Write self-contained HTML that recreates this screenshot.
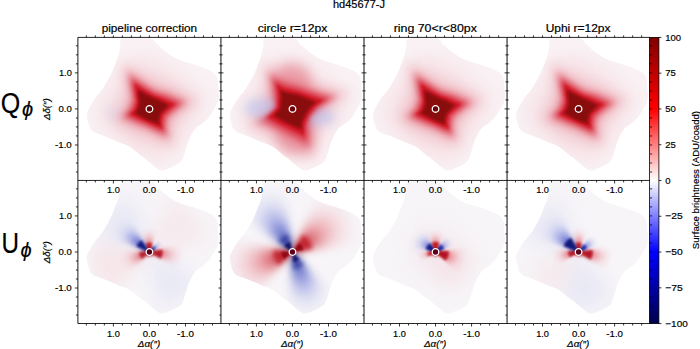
<!DOCTYPE html><html><head><meta charset="utf-8"><style>html,body{margin:0;padding:0;background:#fff;overflow:hidden}svg{display:block}</style></head><body>
<svg width="700" height="349" viewBox="0 0 700 349" font-family='"Liberation Sans", sans-serif'><style>text{stroke:#000;stroke-width:0.18px}</style>
<defs>
<filter id="b1" x="-100%" y="-100%" width="300%" height="300%"><feGaussianBlur stdDeviation="1"/></filter>
<filter id="b2" x="-100%" y="-100%" width="300%" height="300%"><feGaussianBlur stdDeviation="2"/></filter>
<filter id="b3" x="-100%" y="-100%" width="300%" height="300%"><feGaussianBlur stdDeviation="3"/></filter>
<filter id="b4" x="-100%" y="-100%" width="300%" height="300%"><feGaussianBlur stdDeviation="4"/></filter>
<filter id="b5" x="-100%" y="-100%" width="300%" height="300%"><feGaussianBlur stdDeviation="5"/></filter>
<filter id="b6" x="-100%" y="-100%" width="300%" height="300%"><feGaussianBlur stdDeviation="6"/></filter>
<filter id="b8" x="-100%" y="-100%" width="300%" height="300%"><feGaussianBlur stdDeviation="8"/></filter>
<filter id="b10" x="-100%" y="-100%" width="300%" height="300%"><feGaussianBlur stdDeviation="10"/></filter>
<filter id="b12" x="-100%" y="-100%" width="300%" height="300%"><feGaussianBlur stdDeviation="12"/></filter>
<filter id="b16" x="-100%" y="-100%" width="300%" height="300%"><feGaussianBlur stdDeviation="16"/></filter>
<clipPath id="pc"><rect x="0" y="0" width="143.05" height="143.05"/></clipPath>
<clipPath id="fov"><path d="M45.0,1.0 C49.9,-0.4 65.8,-0.6 71.7,0.5 C77.6,1.6 77.4,5.2 80.3,7.6 C83.2,10.0 86.0,12.7 88.9,14.8 C91.8,16.9 94.4,18.9 97.5,20.5 C100.6,22.1 103.8,23.0 107.6,24.3 C111.4,25.6 116.7,27.0 120.5,28.3 C124.3,29.6 127.8,31.0 130.5,32.3 C133.2,33.5 134.9,34.3 136.5,35.8 C138.1,37.3 139.2,39.2 139.8,41.5 C140.5,43.8 140.2,47.0 140.4,49.8 C140.6,52.6 141.3,55.7 141.2,58.4 C141.0,61.1 140.4,63.8 139.5,66.1 C138.6,68.4 137.3,69.9 136.0,72.1 C134.7,74.2 133.7,76.7 131.8,79.0 C130.0,81.3 127.3,83.9 124.9,85.9 C122.5,87.9 119.8,88.6 117.6,91.2 C115.4,93.8 113.2,98.1 111.6,101.5 C110.0,104.9 109.2,108.3 108.1,111.8 C106.9,115.2 106.0,119.8 104.7,122.2 C103.4,124.7 102.6,125.1 100.4,126.5 C98.2,127.9 94.7,129.7 91.8,130.8 C88.9,131.9 85.8,133.6 83.2,133.3 C80.6,133.0 79.2,131.2 76.3,129.0 C73.4,126.8 68.3,122.3 66.0,120.4 C63.6,118.5 64.5,119.6 62.2,117.8 C59.9,116.0 55.8,111.9 52.1,109.7 C48.4,107.5 44.4,106.5 40.1,104.7 C35.8,102.9 30.5,100.5 26.1,98.7 C21.8,96.9 16.7,96.1 14.0,93.7 C11.3,91.3 10.8,87.3 10.0,84.6 C9.2,81.9 9.0,79.6 9.0,77.6 C9.0,75.6 8.8,75.3 10.0,72.6 C11.2,69.9 14.0,65.1 16.5,61.5 C19.0,57.9 22.1,55.3 24.8,51.2 C27.6,47.1 30.9,40.8 33.0,36.7 C35.0,32.6 35.9,29.5 37.1,26.4 C38.3,23.3 39.3,21.1 40.2,18.2 C41.1,15.3 41.5,11.8 42.3,8.9 C43.1,6.0 40.1,2.4 45.0,1.0Z"/></clipPath>
<radialGradient id="qbg" cx="0.5" cy="0.5" r="0.5"><stop offset="0" stop-color="#f4c8d0"/><stop offset="1" stop-color="#fcf1f4"/></radialGradient>
<linearGradient id="cb" x1="0" y1="0" x2="0" y2="1"><stop offset="0" stop-color="#800000"/><stop offset="0.25" stop-color="#ff0000"/><stop offset="0.5" stop-color="#ffffff"/><stop offset="0.75" stop-color="#0000ff"/><stop offset="1" stop-color="#00004d"/></linearGradient>
<radialGradient id="gb" gradientUnits="userSpaceOnUse" cx="0" cy="0" r="1"><stop offset="0" stop-color="#0a0a58"/><stop offset="0.12" stop-color="#0e1274"/><stop offset="0.28" stop-color="#3040b8" stop-opacity="0.95"/><stop offset="0.5" stop-color="#8088dc" stop-opacity="0.7"/><stop offset="0.75" stop-color="#c0c6ee" stop-opacity="0.4"/><stop offset="1" stop-color="#e0e4f6" stop-opacity="0"/></radialGradient>
<radialGradient id="gr" gradientUnits="userSpaceOnUse" cx="0" cy="0" r="1"><stop offset="0" stop-color="#8a0010"/><stop offset="0.12" stop-color="#a80818"/><stop offset="0.28" stop-color="#d02a36" stop-opacity="0.95"/><stop offset="0.5" stop-color="#e8868e" stop-opacity="0.7"/><stop offset="0.75" stop-color="#f4c2c8" stop-opacity="0.4"/><stop offset="1" stop-color="#f8dde2" stop-opacity="0"/></radialGradient>
<radialGradient id="qglow" cx="0.5" cy="0.5" r="0.5"><stop offset="0" stop-color="#e8909c" stop-opacity="0.7"/><stop offset="0.35" stop-color="#eeaab4" stop-opacity="0.45"/><stop offset="0.7" stop-color="#f2c4cc" stop-opacity="0.18"/><stop offset="1" stop-color="#f4d4da" stop-opacity="0"/></radialGradient>
</defs>
<g transform="translate(77.90,37.40)" clip-path="url(#pc)">
<g clip-path="url(#fov)">
<path d="M45.0,1.0 C49.9,-0.4 65.8,-0.6 71.7,0.5 C77.6,1.6 77.4,5.2 80.3,7.6 C83.2,10.0 86.0,12.7 88.9,14.8 C91.8,16.9 94.4,18.9 97.5,20.5 C100.6,22.1 103.8,23.0 107.6,24.3 C111.4,25.6 116.7,27.0 120.5,28.3 C124.3,29.6 127.8,31.0 130.5,32.3 C133.2,33.5 134.9,34.3 136.5,35.8 C138.1,37.3 139.2,39.2 139.8,41.5 C140.5,43.8 140.2,47.0 140.4,49.8 C140.6,52.6 141.3,55.7 141.2,58.4 C141.0,61.1 140.4,63.8 139.5,66.1 C138.6,68.4 137.3,69.9 136.0,72.1 C134.7,74.2 133.7,76.7 131.8,79.0 C130.0,81.3 127.3,83.9 124.9,85.9 C122.5,87.9 119.8,88.6 117.6,91.2 C115.4,93.8 113.2,98.1 111.6,101.5 C110.0,104.9 109.2,108.3 108.1,111.8 C106.9,115.2 106.0,119.8 104.7,122.2 C103.4,124.7 102.6,125.1 100.4,126.5 C98.2,127.9 94.7,129.7 91.8,130.8 C88.9,131.9 85.8,133.6 83.2,133.3 C80.6,133.0 79.2,131.2 76.3,129.0 C73.4,126.8 68.3,122.3 66.0,120.4 C63.6,118.5 64.5,119.6 62.2,117.8 C59.9,116.0 55.8,111.9 52.1,109.7 C48.4,107.5 44.4,106.5 40.1,104.7 C35.8,102.9 30.5,100.5 26.1,98.7 C21.8,96.9 16.7,96.1 14.0,93.7 C11.3,91.3 10.8,87.3 10.0,84.6 C9.2,81.9 9.0,79.6 9.0,77.6 C9.0,75.6 8.8,75.3 10.0,72.6 C11.2,69.9 14.0,65.1 16.5,61.5 C19.0,57.9 22.1,55.3 24.8,51.2 C27.6,47.1 30.9,40.8 33.0,36.7 C35.0,32.6 35.9,29.5 37.1,26.4 C38.3,23.3 39.3,21.1 40.2,18.2 C41.1,15.3 41.5,11.8 42.3,8.9 C43.1,6.0 40.1,2.4 45.0,1.0Z" fill="#f9f1f4"/>
<g transform="translate(71.53,71.53)">
<circle r="62" fill="url(#qglow)"/>
<path d="M-14.0,-58.0 L16.0,-20.0 L62.0,-12.0 L18.0,14.0 L16.0,57.0 L-14.0,18.0 L-57.0,7.0 L-17.0,-12.0Z" fill="#f0b4be" opacity="0.2" filter="url(#b10)"/>
<path d="M-27.6,-47.3 L-10.3,-34.0 L6.0,-21.8 L23.9,-18.2 L48.4,-8.8 L34.3,0.7 L20.8,9.6 L20.5,24.6 L25.2,37.7 L10.3,29.9 L-3.0,21.4 L-17.0,17.7 L-36.9,10.4 L-25.8,0.7 L-19.4,-11.4 L-23.9,-26.7Z" fill="#e8808c" opacity="0.45" filter="url(#b6)"/>
<path d="M-21.2,-36.4 L-8.3,-27.4 L5.1,-18.5 L19.2,-14.6 L37.2,-6.8 L27.6,0.6 L17.7,8.2 L16.5,19.8 L19.4,29.0 L8.3,24.1 L-2.5,18.2 L-13.7,14.2 L-28.4,8.0 L-20.7,0.6 L-16.5,-9.7 L-19.2,-21.5Z" fill="#dc4654" opacity="0.68" filter="url(#b3)"/>
<ellipse cx="-36" cy="4" rx="9" ry="7" fill="#c8ceee" opacity="0.25" filter="url(#b4)"/>
<path d="M-17.0,-29.1 L-6.9,-22.6 L4.3,-15.8 L15.9,-12.0 L29.8,-5.4 L22.7,0.5 L15.1,7.0 L13.6,16.3 L15.5,23.2 L6.9,19.8 L-2.2,15.5 L-11.3,11.7 L-22.7,6.4 L-17.1,0.5 L-14.1,-8.3 L-15.9,-17.7Z" fill="#d82a3a" opacity="0.85" filter="url(#b2)"/>
<path d="M-14.3,-24.6 L-5.9,-19.2 L3.8,-13.6 L13.5,-10.3 L25.1,-4.6 L19.4,0.4 L13.0,6.0 L11.6,13.9 L13.1,19.6 L5.9,16.9 L-1.9,13.4 L-9.6,10.0 L-19.2,5.4 L-14.6,0.4 L-12.1,-7.1 L-13.5,-15.1Z" fill="#cc1424" filter="url(#b1)"/>
<path d="M-11.1,-19.1 L-4.7,-15.5 L3.2,-11.4 L10.9,-8.3 L19.5,-3.6 L15.6,0.3 L10.9,5.0 L9.3,11.2 L10.2,15.2 L4.7,13.7 L-1.6,11.2 L-7.8,8.1 L-14.9,4.2 L-11.8,0.3 L-10.2,-6.0 L-10.9,-12.2Z" fill="#8a0a10" filter="url(#b1)"/>
<circle r="3.3" fill="#700008" stroke="#fff" stroke-width="1.3"/>
</g></g></g>
<g transform="translate(220.95,37.40)" clip-path="url(#pc)">
<g clip-path="url(#fov)">
<path d="M45.0,1.0 C49.9,-0.4 65.8,-0.6 71.7,0.5 C77.6,1.6 77.4,5.2 80.3,7.6 C83.2,10.0 86.0,12.7 88.9,14.8 C91.8,16.9 94.4,18.9 97.5,20.5 C100.6,22.1 103.8,23.0 107.6,24.3 C111.4,25.6 116.7,27.0 120.5,28.3 C124.3,29.6 127.8,31.0 130.5,32.3 C133.2,33.5 134.9,34.3 136.5,35.8 C138.1,37.3 139.2,39.2 139.8,41.5 C140.5,43.8 140.2,47.0 140.4,49.8 C140.6,52.6 141.3,55.7 141.2,58.4 C141.0,61.1 140.4,63.8 139.5,66.1 C138.6,68.4 137.3,69.9 136.0,72.1 C134.7,74.2 133.7,76.7 131.8,79.0 C130.0,81.3 127.3,83.9 124.9,85.9 C122.5,87.9 119.8,88.6 117.6,91.2 C115.4,93.8 113.2,98.1 111.6,101.5 C110.0,104.9 109.2,108.3 108.1,111.8 C106.9,115.2 106.0,119.8 104.7,122.2 C103.4,124.7 102.6,125.1 100.4,126.5 C98.2,127.9 94.7,129.7 91.8,130.8 C88.9,131.9 85.8,133.6 83.2,133.3 C80.6,133.0 79.2,131.2 76.3,129.0 C73.4,126.8 68.3,122.3 66.0,120.4 C63.6,118.5 64.5,119.6 62.2,117.8 C59.9,116.0 55.8,111.9 52.1,109.7 C48.4,107.5 44.4,106.5 40.1,104.7 C35.8,102.9 30.5,100.5 26.1,98.7 C21.8,96.9 16.7,96.1 14.0,93.7 C11.3,91.3 10.8,87.3 10.0,84.6 C9.2,81.9 9.0,79.6 9.0,77.6 C9.0,75.6 8.8,75.3 10.0,72.6 C11.2,69.9 14.0,65.1 16.5,61.5 C19.0,57.9 22.1,55.3 24.8,51.2 C27.6,47.1 30.9,40.8 33.0,36.7 C35.0,32.6 35.9,29.5 37.1,26.4 C38.3,23.3 39.3,21.1 40.2,18.2 C41.1,15.3 41.5,11.8 42.3,8.9 C43.1,6.0 40.1,2.4 45.0,1.0Z" fill="#f9f1f4"/>
<g transform="translate(71.53,71.53)">
<circle r="62" fill="url(#qglow)"/>
<path d="M-14.0,-58.0 L16.0,-20.0 L62.0,-12.0 L18.0,14.0 L16.0,57.0 L-14.0,18.0 L-57.0,7.0 L-17.0,-12.0Z" fill="#f0b4be" opacity="0.2" filter="url(#b10)"/>
<ellipse cx="0" cy="-28" rx="19" ry="18" fill="#e06070" opacity="0.45" filter="url(#b6)"/>
<ellipse cx="3" cy="28" rx="19" ry="18" fill="#e06070" opacity="0.45" filter="url(#b6)"/>
<path d="M-29.9,-46.5 L-12.9,-35.2 L11.4,-26.6 L38.8,-19.6 L57.7,-16.6 L38.8,-4.1 L25.2,10.0 L20.8,26.9 L22.1,50.2 L2.5,37.2 L-23.2,24.4 L-46.0,16.1 L-26.0,-1.6 L-24.4,-24.8Z" fill="#e8808c" opacity="0.45" filter="url(#b6)"/>
<path d="M-23.0,-35.8 L-10.4,-28.5 L9.7,-22.6 L31.5,-15.9 L44.4,-12.8 L31.5,-3.3 L21.4,8.5 L16.8,21.8 L17.0,38.6 L2.0,30.2 L-18.8,19.7 L-35.4,12.4 L-21.0,-1.3 L-19.7,-20.1Z" fill="#dc4654" opacity="0.68" filter="url(#b3)"/>
<ellipse cx="-28" cy="-1" rx="20" ry="10" fill="#bcc4ee" opacity="0.65" filter="url(#b5)"/>
<ellipse cx="23" cy="8" rx="20" ry="9" fill="#bcc4ee" opacity="0.65" filter="url(#b5)"/>
<path d="M-18.4,-28.6 L-8.6,-23.6 L8.3,-19.3 L26.0,-13.2 L35.5,-10.2 L26.0,-2.7 L18.3,7.2 L13.9,18.0 L13.6,30.9 L1.7,25.0 L-15.6,16.4 L-28.3,9.9 L-17.4,-1.1 L-16.4,-16.7Z" fill="#d82a3a" opacity="0.85" filter="url(#b2)"/>
<path d="M-15.5,-24.2 L-7.4,-20.2 L7.1,-16.6 L22.2,-11.2 L30.0,-8.6 L22.2,-2.3 L15.8,6.2 L11.9,15.4 L11.5,26.1 L1.4,21.3 L-13.3,14.0 L-23.9,8.4 L-14.9,-0.9 L-14.0,-14.2Z" fill="#cc1424" filter="url(#b1)"/>
<path d="M-12.1,-18.8 L-6.0,-16.4 L6.0,-14.0 L18.1,-9.1 L23.3,-6.7 L18.1,-1.9 L13.2,5.2 L9.7,12.5 L8.9,20.3 L1.2,17.3 L-10.8,11.3 L-18.6,6.5 L-12.1,-0.7 L-11.3,-11.6Z" fill="#8a0a10" filter="url(#b1)"/>
<circle r="3.3" fill="#700008" stroke="#fff" stroke-width="1.3"/>
</g></g></g>
<g transform="translate(364.00,37.40)" clip-path="url(#pc)">
<g clip-path="url(#fov)">
<path d="M45.0,1.0 C49.9,-0.4 65.8,-0.6 71.7,0.5 C77.6,1.6 77.4,5.2 80.3,7.6 C83.2,10.0 86.0,12.7 88.9,14.8 C91.8,16.9 94.4,18.9 97.5,20.5 C100.6,22.1 103.8,23.0 107.6,24.3 C111.4,25.6 116.7,27.0 120.5,28.3 C124.3,29.6 127.8,31.0 130.5,32.3 C133.2,33.5 134.9,34.3 136.5,35.8 C138.1,37.3 139.2,39.2 139.8,41.5 C140.5,43.8 140.2,47.0 140.4,49.8 C140.6,52.6 141.3,55.7 141.2,58.4 C141.0,61.1 140.4,63.8 139.5,66.1 C138.6,68.4 137.3,69.9 136.0,72.1 C134.7,74.2 133.7,76.7 131.8,79.0 C130.0,81.3 127.3,83.9 124.9,85.9 C122.5,87.9 119.8,88.6 117.6,91.2 C115.4,93.8 113.2,98.1 111.6,101.5 C110.0,104.9 109.2,108.3 108.1,111.8 C106.9,115.2 106.0,119.8 104.7,122.2 C103.4,124.7 102.6,125.1 100.4,126.5 C98.2,127.9 94.7,129.7 91.8,130.8 C88.9,131.9 85.8,133.6 83.2,133.3 C80.6,133.0 79.2,131.2 76.3,129.0 C73.4,126.8 68.3,122.3 66.0,120.4 C63.6,118.5 64.5,119.6 62.2,117.8 C59.9,116.0 55.8,111.9 52.1,109.7 C48.4,107.5 44.4,106.5 40.1,104.7 C35.8,102.9 30.5,100.5 26.1,98.7 C21.8,96.9 16.7,96.1 14.0,93.7 C11.3,91.3 10.8,87.3 10.0,84.6 C9.2,81.9 9.0,79.6 9.0,77.6 C9.0,75.6 8.8,75.3 10.0,72.6 C11.2,69.9 14.0,65.1 16.5,61.5 C19.0,57.9 22.1,55.3 24.8,51.2 C27.6,47.1 30.9,40.8 33.0,36.7 C35.0,32.6 35.9,29.5 37.1,26.4 C38.3,23.3 39.3,21.1 40.2,18.2 C41.1,15.3 41.5,11.8 42.3,8.9 C43.1,6.0 40.1,2.4 45.0,1.0Z" fill="#f9f1f4"/>
<g transform="translate(71.53,71.53)">
<circle r="62" fill="url(#qglow)"/>
<path d="M-14.0,-58.0 L16.0,-20.0 L62.0,-12.0 L18.0,14.0 L16.0,57.0 L-14.0,18.0 L-57.0,7.0 L-17.0,-12.0Z" fill="#f0b4be" opacity="0.2" filter="url(#b10)"/>
<path d="M-27.6,-47.3 L-10.3,-34.0 L6.0,-21.8 L23.9,-18.2 L48.4,-8.8 L34.3,0.7 L20.8,9.6 L20.5,24.6 L25.2,37.7 L10.3,29.9 L-3.0,21.4 L-17.0,17.7 L-36.9,10.4 L-25.8,0.7 L-19.4,-11.4 L-23.9,-26.7Z" fill="#e8808c" opacity="0.45" filter="url(#b6)"/>
<path d="M-21.2,-36.4 L-8.3,-27.4 L5.1,-18.5 L19.2,-14.6 L37.2,-6.8 L27.6,0.6 L17.7,8.2 L16.5,19.8 L19.4,29.0 L8.3,24.1 L-2.5,18.2 L-13.7,14.2 L-28.4,8.0 L-20.7,0.6 L-16.5,-9.7 L-19.2,-21.5Z" fill="#dc4654" opacity="0.68" filter="url(#b3)"/>
<path d="M-17.0,-29.1 L-6.9,-22.6 L4.3,-15.8 L15.9,-12.0 L29.8,-5.4 L22.7,0.5 L15.1,7.0 L13.6,16.3 L15.5,23.2 L6.9,19.8 L-2.2,15.5 L-11.3,11.7 L-22.7,6.4 L-17.1,0.5 L-14.1,-8.3 L-15.9,-17.7Z" fill="#d82a3a" opacity="0.85" filter="url(#b2)"/>
<path d="M-14.3,-24.6 L-5.9,-19.2 L3.8,-13.6 L13.5,-10.3 L25.1,-4.6 L19.4,0.4 L13.0,6.0 L11.6,13.9 L13.1,19.6 L5.9,16.9 L-1.9,13.4 L-9.6,10.0 L-19.2,5.4 L-14.6,0.4 L-12.1,-7.1 L-13.5,-15.1Z" fill="#cc1424" filter="url(#b1)"/>
<path d="M-11.1,-19.1 L-4.7,-15.5 L3.2,-11.4 L10.9,-8.3 L19.5,-3.6 L15.6,0.3 L10.9,5.0 L9.3,11.2 L10.2,15.2 L4.7,13.7 L-1.6,11.2 L-7.8,8.1 L-14.9,4.2 L-11.8,0.3 L-10.2,-6.0 L-10.9,-12.2Z" fill="#8a0a10" filter="url(#b1)"/>
<circle r="3.3" fill="#700008" stroke="#fff" stroke-width="1.3"/>
</g></g></g>
<g transform="translate(507.05,37.40)" clip-path="url(#pc)">
<g clip-path="url(#fov)">
<path d="M45.0,1.0 C49.9,-0.4 65.8,-0.6 71.7,0.5 C77.6,1.6 77.4,5.2 80.3,7.6 C83.2,10.0 86.0,12.7 88.9,14.8 C91.8,16.9 94.4,18.9 97.5,20.5 C100.6,22.1 103.8,23.0 107.6,24.3 C111.4,25.6 116.7,27.0 120.5,28.3 C124.3,29.6 127.8,31.0 130.5,32.3 C133.2,33.5 134.9,34.3 136.5,35.8 C138.1,37.3 139.2,39.2 139.8,41.5 C140.5,43.8 140.2,47.0 140.4,49.8 C140.6,52.6 141.3,55.7 141.2,58.4 C141.0,61.1 140.4,63.8 139.5,66.1 C138.6,68.4 137.3,69.9 136.0,72.1 C134.7,74.2 133.7,76.7 131.8,79.0 C130.0,81.3 127.3,83.9 124.9,85.9 C122.5,87.9 119.8,88.6 117.6,91.2 C115.4,93.8 113.2,98.1 111.6,101.5 C110.0,104.9 109.2,108.3 108.1,111.8 C106.9,115.2 106.0,119.8 104.7,122.2 C103.4,124.7 102.6,125.1 100.4,126.5 C98.2,127.9 94.7,129.7 91.8,130.8 C88.9,131.9 85.8,133.6 83.2,133.3 C80.6,133.0 79.2,131.2 76.3,129.0 C73.4,126.8 68.3,122.3 66.0,120.4 C63.6,118.5 64.5,119.6 62.2,117.8 C59.9,116.0 55.8,111.9 52.1,109.7 C48.4,107.5 44.4,106.5 40.1,104.7 C35.8,102.9 30.5,100.5 26.1,98.7 C21.8,96.9 16.7,96.1 14.0,93.7 C11.3,91.3 10.8,87.3 10.0,84.6 C9.2,81.9 9.0,79.6 9.0,77.6 C9.0,75.6 8.8,75.3 10.0,72.6 C11.2,69.9 14.0,65.1 16.5,61.5 C19.0,57.9 22.1,55.3 24.8,51.2 C27.6,47.1 30.9,40.8 33.0,36.7 C35.0,32.6 35.9,29.5 37.1,26.4 C38.3,23.3 39.3,21.1 40.2,18.2 C41.1,15.3 41.5,11.8 42.3,8.9 C43.1,6.0 40.1,2.4 45.0,1.0Z" fill="#f9f1f4"/>
<g transform="translate(71.53,71.53)">
<circle r="62" fill="url(#qglow)"/>
<path d="M-14.0,-58.0 L16.0,-20.0 L62.0,-12.0 L18.0,14.0 L16.0,57.0 L-14.0,18.0 L-57.0,7.0 L-17.0,-12.0Z" fill="#f0b4be" opacity="0.2" filter="url(#b10)"/>
<path d="M-27.6,-47.3 L-10.3,-34.0 L6.0,-21.8 L23.9,-18.2 L48.4,-8.8 L34.3,0.7 L20.8,9.6 L20.5,24.6 L25.2,37.7 L10.3,29.9 L-3.0,21.4 L-17.0,17.7 L-36.9,10.4 L-25.8,0.7 L-19.4,-11.4 L-23.9,-26.7Z" fill="#e8808c" opacity="0.45" filter="url(#b6)"/>
<path d="M-21.2,-36.4 L-8.3,-27.4 L5.1,-18.5 L19.2,-14.6 L37.2,-6.8 L27.6,0.6 L17.7,8.2 L16.5,19.8 L19.4,29.0 L8.3,24.1 L-2.5,18.2 L-13.7,14.2 L-28.4,8.0 L-20.7,0.6 L-16.5,-9.7 L-19.2,-21.5Z" fill="#dc4654" opacity="0.68" filter="url(#b3)"/>
<path d="M-17.0,-29.1 L-6.9,-22.6 L4.3,-15.8 L15.9,-12.0 L29.8,-5.4 L22.7,0.5 L15.1,7.0 L13.6,16.3 L15.5,23.2 L6.9,19.8 L-2.2,15.5 L-11.3,11.7 L-22.7,6.4 L-17.1,0.5 L-14.1,-8.3 L-15.9,-17.7Z" fill="#d82a3a" opacity="0.85" filter="url(#b2)"/>
<path d="M-14.3,-24.6 L-5.9,-19.2 L3.8,-13.6 L13.5,-10.3 L25.1,-4.6 L19.4,0.4 L13.0,6.0 L11.6,13.9 L13.1,19.6 L5.9,16.9 L-1.9,13.4 L-9.6,10.0 L-19.2,5.4 L-14.6,0.4 L-12.1,-7.1 L-13.5,-15.1Z" fill="#cc1424" filter="url(#b1)"/>
<path d="M-11.1,-19.1 L-4.7,-15.5 L3.2,-11.4 L10.9,-8.3 L19.5,-3.6 L15.6,0.3 L10.9,5.0 L9.3,11.2 L10.2,15.2 L4.7,13.7 L-1.6,11.2 L-7.8,8.1 L-14.9,4.2 L-11.8,0.3 L-10.2,-6.0 L-10.9,-12.2Z" fill="#8a0a10" filter="url(#b1)"/>
<circle r="3.3" fill="#700008" stroke="#fff" stroke-width="1.3"/>
</g></g></g>
<g transform="translate(77.90,180.45)" clip-path="url(#pc)">
<g clip-path="url(#fov)">
<path d="M45.0,1.0 C49.9,-0.4 65.8,-0.6 71.7,0.5 C77.6,1.6 77.4,5.2 80.3,7.6 C83.2,10.0 86.0,12.7 88.9,14.8 C91.8,16.9 94.4,18.9 97.5,20.5 C100.6,22.1 103.8,23.0 107.6,24.3 C111.4,25.6 116.7,27.0 120.5,28.3 C124.3,29.6 127.8,31.0 130.5,32.3 C133.2,33.5 134.9,34.3 136.5,35.8 C138.1,37.3 139.2,39.2 139.8,41.5 C140.5,43.8 140.2,47.0 140.4,49.8 C140.6,52.6 141.3,55.7 141.2,58.4 C141.0,61.1 140.4,63.8 139.5,66.1 C138.6,68.4 137.3,69.9 136.0,72.1 C134.7,74.2 133.7,76.7 131.8,79.0 C130.0,81.3 127.3,83.9 124.9,85.9 C122.5,87.9 119.8,88.6 117.6,91.2 C115.4,93.8 113.2,98.1 111.6,101.5 C110.0,104.9 109.2,108.3 108.1,111.8 C106.9,115.2 106.0,119.8 104.7,122.2 C103.4,124.7 102.6,125.1 100.4,126.5 C98.2,127.9 94.7,129.7 91.8,130.8 C88.9,131.9 85.8,133.6 83.2,133.3 C80.6,133.0 79.2,131.2 76.3,129.0 C73.4,126.8 68.3,122.3 66.0,120.4 C63.6,118.5 64.5,119.6 62.2,117.8 C59.9,116.0 55.8,111.9 52.1,109.7 C48.4,107.5 44.4,106.5 40.1,104.7 C35.8,102.9 30.5,100.5 26.1,98.7 C21.8,96.9 16.7,96.1 14.0,93.7 C11.3,91.3 10.8,87.3 10.0,84.6 C9.2,81.9 9.0,79.6 9.0,77.6 C9.0,75.6 8.8,75.3 10.0,72.6 C11.2,69.9 14.0,65.1 16.5,61.5 C19.0,57.9 22.1,55.3 24.8,51.2 C27.6,47.1 30.9,40.8 33.0,36.7 C35.0,32.6 35.9,29.5 37.1,26.4 C38.3,23.3 39.3,21.1 40.2,18.2 C41.1,15.3 41.5,11.8 42.3,8.9 C43.1,6.0 40.1,2.4 45.0,1.0Z" fill="#f7f5f8"/>
<g transform="translate(71.53,71.53)">
<path d="M0.0,0.0 L-54.8,-18.9 L-52.3,-25.0 L-49.2,-30.7 L-45.4,-36.1 L-41.0,-41.0 L-36.1,-45.4 L-30.7,-49.2 L-25.0,-52.3 L-18.9,-54.8Z" fill="#c2c8ef" opacity="0.30" filter="url(#b10)"/>
<path d="M0.0,0.0 L47.1,28.3 L43.9,33.1 L40.2,37.5 L36.1,41.5 L31.5,45.1 L26.7,48.1 L21.5,50.6 L16.1,52.6 L10.5,54.0Z" fill="#c2c8ef" opacity="0.30" filter="url(#b10)"/>
<path d="M0.0,0.0 L-38.8,43.1 L-43.8,38.1 L-48.1,32.4 L-51.7,26.3 L-54.5,19.8 L-56.5,13.0 L-57.7,6.1 L-58.0,-1.0 L-57.4,-8.1Z" fill="#f4c0c6" opacity="0.30" filter="url(#b10)"/>
<path d="M0.0,0.0 L19.8,-54.5 L26.8,-51.4 L33.3,-47.5 L39.2,-42.8 L44.4,-37.3 L48.9,-31.2 L52.6,-24.5 L55.3,-17.4 L57.1,-10.1Z" fill="#f4c0c6" opacity="0.22" filter="url(#b10)"/>
<circle r="5" fill="#c01424" opacity="0.5" filter="url(#b1)"/>
<defs><radialGradient id="g1" gradientUnits="userSpaceOnUse" cx="0" cy="0" r="34.0"><stop offset="0" stop-color="#8a0010"/><stop offset="0.12" stop-color="#a80818"/><stop offset="0.28" stop-color="#d02a36" stop-opacity="0.95"/><stop offset="0.5" stop-color="#e8868e" stop-opacity="0.7"/><stop offset="0.75" stop-color="#f4c2c8" stop-opacity="0.4"/><stop offset="1" stop-color="#f8dde2" stop-opacity="0"/></radialGradient></defs>
<path d="M0.0,0.0 L34.0,0.4 L34.0,1.1 L33.9,1.8 L33.9,2.6 L33.8,3.3 L33.8,4.0 L33.7,4.7 L33.6,5.4 L33.4,6.2 L33.3,6.9 L33.1,7.6 L33.0,8.3 L32.8,9.0Z" fill="url(#g1)" opacity="0.45" filter="url(#b2)"/>
<path d="M0.0,0.0 L33.8,-3.9 L33.9,-2.5 L34.0,-1.1 L34.0,0.4 L33.9,1.8 L33.8,3.3 L33.7,4.7 L33.4,6.2 L33.1,7.6 L32.8,9.0 L32.4,10.4 L31.9,11.8 L31.4,13.1Z" fill="url(#g1)" opacity="0.45" filter="url(#b2)"/>
<path d="M0.0,0.0 L33.0,-8.2 L33.4,-6.1 L33.8,-3.9 L34.0,-1.8 L34.0,0.4 L33.9,2.6 L33.7,4.7 L33.3,6.9 L32.8,9.0 L32.1,11.1 L31.4,13.1 L30.5,15.1 L29.4,17.0Z" fill="url(#g1)" opacity="0.45" filter="url(#b2)"/>
<defs><radialGradient id="g2" gradientUnits="userSpaceOnUse" cx="0" cy="0" r="24.0"><stop offset="0" stop-color="#8a0010"/><stop offset="0.12" stop-color="#a80818"/><stop offset="0.28" stop-color="#d02a36" stop-opacity="0.95"/><stop offset="0.5" stop-color="#e8868e" stop-opacity="0.7"/><stop offset="0.75" stop-color="#f4c2c8" stop-opacity="0.4"/><stop offset="1" stop-color="#f8dde2" stop-opacity="0"/></radialGradient></defs>
<path d="M0.0,0.0 L-4.2,-23.6 L-3.6,-23.7 L-3.1,-23.8 L-2.5,-23.9 L-2.0,-23.9 L-1.4,-24.0 L-0.8,-24.0 L-0.3,-24.0 L0.3,-24.0 L0.8,-24.0 L1.4,-24.0 L2.0,-23.9 L2.5,-23.9Z" fill="url(#g2)" opacity="0.40" filter="url(#b1)"/>
<path d="M0.0,0.0 L-7.4,-22.8 L-6.3,-23.1 L-5.3,-23.4 L-4.2,-23.6 L-3.1,-23.8 L-2.0,-23.9 L-0.8,-24.0 L0.3,-24.0 L1.4,-24.0 L2.5,-23.9 L3.6,-23.7 L4.7,-23.5 L5.8,-23.3Z" fill="url(#g2)" opacity="0.40" filter="url(#b1)"/>
<path d="M0.0,0.0 L-10.5,-21.6 L-9.0,-22.3 L-7.4,-22.8 L-5.8,-23.3 L-4.2,-23.6 L-2.5,-23.9 L-0.8,-24.0 L0.8,-24.0 L2.5,-23.9 L4.2,-23.6 L5.8,-23.3 L7.4,-22.8 L9.0,-22.3Z" fill="url(#g2)" opacity="0.40" filter="url(#b1)"/>
<defs><radialGradient id="g3" gradientUnits="userSpaceOnUse" cx="0" cy="0" r="30.0"><stop offset="0" stop-color="#8a0010"/><stop offset="0.12" stop-color="#a80818"/><stop offset="0.28" stop-color="#d02a36" stop-opacity="0.95"/><stop offset="0.5" stop-color="#e8868e" stop-opacity="0.7"/><stop offset="0.75" stop-color="#f4c2c8" stop-opacity="0.4"/><stop offset="1" stop-color="#f8dde2" stop-opacity="0"/></radialGradient></defs>
<path d="M0.0,0.0 L-26.0,15.0 L-26.3,14.4 L-26.7,13.8 L-27.0,13.2 L-27.3,12.5 L-27.5,11.9 L-27.8,11.2 L-28.1,10.6 L-28.3,9.9 L-28.5,9.3 L-28.7,8.6 L-28.9,7.9 L-29.1,7.3Z" fill="url(#g3)" opacity="0.45" filter="url(#b2)"/>
<path d="M0.0,0.0 L-23.6,18.5 L-24.5,17.3 L-25.3,16.2 L-26.0,15.0 L-26.7,13.8 L-27.3,12.5 L-27.8,11.2 L-28.3,9.9 L-28.7,8.6 L-29.1,7.3 L-29.4,5.9 L-29.7,4.5 L-29.8,3.1Z" fill="url(#g3)" opacity="0.45" filter="url(#b2)"/>
<path d="M0.0,0.0 L-20.8,21.6 L-22.3,20.1 L-23.6,18.5 L-24.9,16.8 L-26.0,15.0 L-27.0,13.2 L-27.8,11.2 L-28.5,9.3 L-29.1,7.3 L-29.5,5.2 L-29.8,3.1 L-30.0,1.0 L-30.0,-1.0Z" fill="url(#g3)" opacity="0.45" filter="url(#b2)"/>
<defs><radialGradient id="g4" gradientUnits="userSpaceOnUse" cx="0" cy="0" r="42.0"><stop offset="0" stop-color="#0a0a58"/><stop offset="0.12" stop-color="#0e1274"/><stop offset="0.28" stop-color="#3040b8" stop-opacity="0.95"/><stop offset="0.5" stop-color="#8088dc" stop-opacity="0.7"/><stop offset="0.75" stop-color="#c0c6ee" stop-opacity="0.4"/><stop offset="1" stop-color="#e0e4f6" stop-opacity="0"/></radialGradient></defs>
<path d="M0.0,0.0 L-35.1,-23.1 L-34.6,-23.8 L-34.2,-24.4 L-33.7,-25.1 L-33.2,-25.7 L-32.7,-26.4 L-32.2,-27.0 L-31.6,-27.6 L-31.1,-28.2 L-30.5,-28.8 L-30.0,-29.4 L-29.4,-30.0 L-28.8,-30.5Z" fill="url(#g4)" opacity="0.50" filter="url(#b2)"/>
<path d="M0.0,0.0 L-37.5,-18.8 L-36.8,-20.3 L-36.0,-21.7 L-35.1,-23.1 L-34.2,-24.4 L-33.2,-25.7 L-32.2,-27.0 L-31.1,-28.2 L-30.0,-29.4 L-28.8,-30.5 L-27.6,-31.6 L-26.4,-32.7 L-25.1,-33.7Z" fill="url(#g4)" opacity="0.50" filter="url(#b2)"/>
<path d="M0.0,0.0 L-39.5,-14.4 L-38.6,-16.6 L-37.5,-18.8 L-36.4,-21.0 L-35.1,-23.1 L-33.7,-25.1 L-32.2,-27.0 L-30.5,-28.8 L-28.8,-30.5 L-27.0,-32.2 L-25.1,-33.7 L-23.1,-35.1 L-21.0,-36.4Z" fill="url(#g4)" opacity="0.50" filter="url(#b2)"/>
<defs><radialGradient id="g5" gradientUnits="userSpaceOnUse" cx="0" cy="0" r="16.0"><stop offset="0" stop-color="#0a0a58"/><stop offset="0.12" stop-color="#0e1274"/><stop offset="0.28" stop-color="#3040b8" stop-opacity="0.95"/><stop offset="0.5" stop-color="#8088dc" stop-opacity="0.7"/><stop offset="0.75" stop-color="#c0c6ee" stop-opacity="0.4"/><stop offset="1" stop-color="#e0e4f6" stop-opacity="0"/></radialGradient></defs>
<path d="M0.0,0.0 L11.2,-11.4 L11.4,-11.2 L11.6,-11.0 L11.8,-10.8 L11.9,-10.7 L12.1,-10.5 L12.3,-10.3 L12.4,-10.1 L12.6,-9.9 L12.7,-9.7 L12.9,-9.5 L13.0,-9.3 L13.2,-9.1Z" fill="url(#g5)" opacity="0.45" filter="url(#b1)"/>
<path d="M0.0,0.0 L10.1,-12.4 L10.5,-12.1 L10.9,-11.7 L11.2,-11.4 L11.6,-11.0 L11.9,-10.7 L12.3,-10.3 L12.6,-9.9 L12.9,-9.5 L13.2,-9.1 L13.4,-8.7 L13.7,-8.3 L13.9,-7.8Z" fill="url(#g5)" opacity="0.45" filter="url(#b1)"/>
<path d="M0.0,0.0 L8.9,-13.3 L9.6,-12.8 L10.1,-12.4 L10.7,-11.9 L11.2,-11.4 L11.8,-10.8 L12.3,-10.3 L12.7,-9.7 L13.2,-9.1 L13.6,-8.5 L13.9,-7.8 L14.3,-7.2 L14.6,-6.5Z" fill="url(#g5)" opacity="0.45" filter="url(#b1)"/>
<path d="M0.0,0.0 L12.8,-2.3 L13.0,-1.1 L13.0,0.0 L13.0,1.1 L12.8,2.3 L12.6,3.4 L12.2,4.4 L11.8,5.5 L11.3,6.5Z" fill="#b00c1c" opacity="0.85" filter="url(#b1)"/>
<path d="M0.0,0.0 L-3.7,-8.2 L-2.9,-8.5 L-2.0,-8.8 L-1.2,-8.9 L-0.3,-9.0 L0.5,-9.0 L1.4,-8.9 L2.3,-8.7 L3.1,-8.5Z" fill="#b80c1c" opacity="0.80" filter="url(#b1)"/>
<path d="M0.0,0.0 L-7.4,6.7 L-8.0,6.0 L-8.5,5.3 L-8.9,4.5 L-9.3,3.7 L-9.6,2.9 L-9.8,2.1 L-9.9,1.2 L-10.0,0.3Z" fill="#b00c1c" opacity="0.80" filter="url(#b1)"/>
<path d="M0.0,0.0 L-12.8,-5.7 L-12.4,-6.6 L-11.9,-7.4 L-11.3,-8.2 L-10.7,-9.0 L-10.1,-9.7 L-9.4,-10.4 L-8.6,-11.0 L-7.8,-11.6Z" fill="#10147a" opacity="0.90" filter="url(#b1)"/>
<path d="M0.0,0.0 L4.1,-5.7 L4.4,-5.4 L4.7,-5.2 L4.9,-4.9 L5.2,-4.7 L5.4,-4.4 L5.7,-4.1 L5.9,-3.8 L6.1,-3.5Z" fill="#1a2090" opacity="0.75" filter="url(#b1)"/>
<circle r="3.3" fill="#600018" stroke="#fff" stroke-width="1.3"/>
</g></g></g>
<g transform="translate(220.95,180.45)" clip-path="url(#pc)">
<g clip-path="url(#fov)">
<path d="M45.0,1.0 C49.9,-0.4 65.8,-0.6 71.7,0.5 C77.6,1.6 77.4,5.2 80.3,7.6 C83.2,10.0 86.0,12.7 88.9,14.8 C91.8,16.9 94.4,18.9 97.5,20.5 C100.6,22.1 103.8,23.0 107.6,24.3 C111.4,25.6 116.7,27.0 120.5,28.3 C124.3,29.6 127.8,31.0 130.5,32.3 C133.2,33.5 134.9,34.3 136.5,35.8 C138.1,37.3 139.2,39.2 139.8,41.5 C140.5,43.8 140.2,47.0 140.4,49.8 C140.6,52.6 141.3,55.7 141.2,58.4 C141.0,61.1 140.4,63.8 139.5,66.1 C138.6,68.4 137.3,69.9 136.0,72.1 C134.7,74.2 133.7,76.7 131.8,79.0 C130.0,81.3 127.3,83.9 124.9,85.9 C122.5,87.9 119.8,88.6 117.6,91.2 C115.4,93.8 113.2,98.1 111.6,101.5 C110.0,104.9 109.2,108.3 108.1,111.8 C106.9,115.2 106.0,119.8 104.7,122.2 C103.4,124.7 102.6,125.1 100.4,126.5 C98.2,127.9 94.7,129.7 91.8,130.8 C88.9,131.9 85.8,133.6 83.2,133.3 C80.6,133.0 79.2,131.2 76.3,129.0 C73.4,126.8 68.3,122.3 66.0,120.4 C63.6,118.5 64.5,119.6 62.2,117.8 C59.9,116.0 55.8,111.9 52.1,109.7 C48.4,107.5 44.4,106.5 40.1,104.7 C35.8,102.9 30.5,100.5 26.1,98.7 C21.8,96.9 16.7,96.1 14.0,93.7 C11.3,91.3 10.8,87.3 10.0,84.6 C9.2,81.9 9.0,79.6 9.0,77.6 C9.0,75.6 8.8,75.3 10.0,72.6 C11.2,69.9 14.0,65.1 16.5,61.5 C19.0,57.9 22.1,55.3 24.8,51.2 C27.6,47.1 30.9,40.8 33.0,36.7 C35.0,32.6 35.9,29.5 37.1,26.4 C38.3,23.3 39.3,21.1 40.2,18.2 C41.1,15.3 41.5,11.8 42.3,8.9 C43.1,6.0 40.1,2.4 45.0,1.0Z" fill="#f7f5f8"/>
<g transform="translate(71.53,71.53)">
<defs><radialGradient id="g6" gradientUnits="userSpaceOnUse" cx="0" cy="0" r="70.0"><stop offset="0" stop-color="#0a0a58"/><stop offset="0.12" stop-color="#0e1274"/><stop offset="0.28" stop-color="#3040b8" stop-opacity="0.95"/><stop offset="0.5" stop-color="#8088dc" stop-opacity="0.7"/><stop offset="0.75" stop-color="#c0c6ee" stop-opacity="0.4"/><stop offset="1" stop-color="#e0e4f6" stop-opacity="0"/></radialGradient></defs>
<path d="M0.0,0.0 L-44.1,-54.4 L-42.8,-55.4 L-41.5,-56.4 L-40.2,-57.3 L-38.8,-58.3 L-37.4,-59.1 L-36.1,-60.0 L-34.6,-60.8 L-33.2,-61.6 L-31.8,-62.4 L-30.3,-63.1 L-28.8,-63.8 L-27.4,-64.4Z" fill="url(#g6)" opacity="0.42" filter="url(#b4)"/>
<path d="M0.0,0.0 L-51.2,-47.7 L-48.9,-50.1 L-46.5,-52.3 L-44.1,-54.4 L-41.5,-56.4 L-38.8,-58.3 L-36.1,-60.0 L-33.2,-61.6 L-30.3,-63.1 L-27.4,-64.4 L-24.3,-65.6 L-21.2,-66.7 L-18.1,-67.6Z" fill="url(#g6)" opacity="0.42" filter="url(#b4)"/>
<path d="M0.0,0.0 L-57.3,-40.2 L-54.4,-44.1 L-51.2,-47.7 L-47.7,-51.2 L-44.1,-54.4 L-40.2,-57.3 L-36.1,-60.0 L-31.8,-62.4 L-27.4,-64.4 L-22.8,-66.2 L-18.1,-67.6 L-13.4,-68.7 L-8.5,-69.5Z" fill="url(#g6)" opacity="0.42" filter="url(#b4)"/>
<defs><radialGradient id="g7" gradientUnits="userSpaceOnUse" cx="0" cy="0" r="66.0"><stop offset="0" stop-color="#0a0a58"/><stop offset="0.12" stop-color="#0e1274"/><stop offset="0.28" stop-color="#3040b8" stop-opacity="0.95"/><stop offset="0.5" stop-color="#8088dc" stop-opacity="0.7"/><stop offset="0.75" stop-color="#c0c6ee" stop-opacity="0.4"/><stop offset="1" stop-color="#e0e4f6" stop-opacity="0"/></radialGradient></defs>
<path d="M0.0,0.0 L31.0,58.3 L29.6,59.0 L28.2,59.7 L26.8,60.3 L25.4,60.9 L24.0,61.5 L22.6,62.0 L21.1,62.5 L19.7,63.0 L18.2,63.4 L16.7,63.8 L15.2,64.2 L13.7,64.6Z" fill="url(#g7)" opacity="0.42" filter="url(#b4)"/>
<path d="M0.0,0.0 L38.8,53.4 L36.3,55.1 L33.7,56.8 L31.0,58.3 L28.2,59.7 L25.4,60.9 L22.6,62.0 L19.7,63.0 L16.7,63.8 L13.7,64.6 L10.7,65.1 L7.7,65.6 L4.6,65.8Z" fill="url(#g7)" opacity="0.42" filter="url(#b4)"/>
<path d="M0.0,0.0 L45.8,47.5 L42.4,50.6 L38.8,53.4 L35.0,56.0 L31.0,58.3 L26.8,60.3 L22.6,62.0 L18.2,63.4 L13.7,64.6 L9.2,65.4 L4.6,65.8 L0.0,66.0 L-4.6,65.8Z" fill="url(#g7)" opacity="0.42" filter="url(#b4)"/>
<defs><radialGradient id="g8" gradientUnits="userSpaceOnUse" cx="0" cy="0" r="72.0"><stop offset="0" stop-color="#8a0010"/><stop offset="0.12" stop-color="#a80818"/><stop offset="0.28" stop-color="#d02a36" stop-opacity="0.95"/><stop offset="0.5" stop-color="#e8868e" stop-opacity="0.7"/><stop offset="0.75" stop-color="#f4c2c8" stop-opacity="0.4"/><stop offset="1" stop-color="#f8dde2" stop-opacity="0"/></radialGradient></defs>
<path d="M0.0,0.0 L50.0,-51.8 L51.5,-50.3 L52.9,-48.8 L54.3,-47.2 L55.7,-45.6 L57.0,-44.0 L58.2,-42.3 L59.5,-40.6 L60.6,-38.9 L61.7,-37.1 L62.8,-35.3 L63.8,-33.4 L64.7,-31.6Z" fill="url(#g8)" opacity="0.42" filter="url(#b4)"/>
<path d="M0.0,0.0 L40.3,-59.7 L43.7,-57.2 L46.9,-54.6 L50.0,-51.8 L52.9,-48.8 L55.7,-45.6 L58.2,-42.3 L60.6,-38.9 L62.8,-35.3 L64.7,-31.6 L66.4,-27.7 L67.9,-23.8 L69.2,-19.8Z" fill="url(#g8)" opacity="0.42" filter="url(#b4)"/>
<path d="M0.0,0.0 L29.3,-65.8 L34.9,-63.0 L40.3,-59.7 L45.3,-56.0 L50.0,-51.8 L54.3,-47.2 L58.2,-42.3 L61.7,-37.1 L64.7,-31.6 L67.2,-25.8 L69.2,-19.8 L70.7,-13.7 L71.6,-7.5Z" fill="url(#g8)" opacity="0.42" filter="url(#b4)"/>
<defs><radialGradient id="g9" gradientUnits="userSpaceOnUse" cx="0" cy="0" r="72.0"><stop offset="0" stop-color="#8a0010"/><stop offset="0.12" stop-color="#a80818"/><stop offset="0.28" stop-color="#d02a36" stop-opacity="0.95"/><stop offset="0.5" stop-color="#e8868e" stop-opacity="0.7"/><stop offset="0.75" stop-color="#f4c2c8" stop-opacity="0.4"/><stop offset="1" stop-color="#f8dde2" stop-opacity="0"/></radialGradient></defs>
<path d="M0.0,0.0 L-63.0,34.9 L-64.0,33.1 L-64.9,31.2 L-65.8,29.3 L-66.6,27.4 L-67.4,25.4 L-68.1,23.4 L-68.7,21.5 L-69.3,19.4 L-69.9,17.4 L-70.3,15.4 L-70.8,13.3 L-71.1,11.3Z" fill="url(#g9)" opacity="0.42" filter="url(#b4)"/>
<path d="M0.0,0.0 L-56.0,45.3 L-58.5,42.0 L-60.8,38.5 L-63.0,34.9 L-64.9,31.2 L-66.6,27.4 L-68.1,23.4 L-69.3,19.4 L-70.3,15.4 L-71.1,11.3 L-71.6,7.1 L-71.9,2.9 L-72.0,-1.3Z" fill="url(#g9)" opacity="0.42" filter="url(#b4)"/>
<path d="M0.0,0.0 L-47.2,54.3 L-51.8,50.0 L-56.0,45.3 L-59.7,40.3 L-63.0,34.9 L-65.8,29.3 L-68.1,23.4 L-69.9,17.4 L-71.1,11.3 L-71.8,5.0 L-72.0,-1.3 L-71.6,-7.5 L-70.7,-13.7Z" fill="url(#g9)" opacity="0.42" filter="url(#b4)"/>
<path d="M0.0,0.0 L-14.0,-11.3 L-13.1,-12.4 L-12.0,-13.4 L-11.0,-14.3 L-9.8,-15.1 L-8.6,-15.8 L-7.3,-16.4 L-6.0,-17.0 L-4.7,-17.4Z" fill="#2a34a0" opacity="0.80" filter="url(#b2)"/>
<path d="M0.0,0.0 L10.9,13.0 L9.9,13.8 L8.8,14.6 L7.6,15.2 L6.4,15.8 L5.1,16.2 L3.8,16.6 L2.5,16.8 L1.2,17.0Z" fill="#2a34a0" opacity="0.75" filter="url(#b2)"/>
<path d="M0.0,0.0 L10.6,-17.0 L12.3,-15.8 L13.9,-14.4 L15.3,-12.9 L16.6,-11.2 L17.7,-9.4 L18.5,-7.5 L19.2,-5.5 L19.7,-3.5Z" fill="#c01424" opacity="0.80" filter="url(#b2)"/>
<path d="M0.0,0.0 L-13.9,13.0 L-15.2,11.4 L-16.3,9.8 L-17.2,8.0 L-18.0,6.2 L-18.5,4.3 L-18.9,2.3 L-19.0,0.3 L-18.9,-1.7Z" fill="#c01424" opacity="0.80" filter="url(#b2)"/>
<path d="M0.0,0.0 L-8.2,-5.7 L-7.7,-6.4 L-7.1,-7.1 L-6.4,-7.7 L-5.7,-8.2 L-5.0,-8.7 L-4.2,-9.1 L-3.4,-9.4 L-2.6,-9.7Z" fill="#0a0a5a" opacity="0.90" filter="url(#b1)"/>
<path d="M0.0,0.0 L6.9,7.2 L6.3,7.8 L5.6,8.3 L4.8,8.7 L4.1,9.1 L3.3,9.5 L2.4,9.7 L1.6,9.9 L0.7,10.0Z" fill="#0c0c60" opacity="0.85" filter="url(#b1)"/>
<path d="M0.0,0.0 L6.5,-8.9 L7.3,-8.2 L8.0,-7.5 L8.7,-6.7 L9.3,-5.8 L9.8,-4.9 L10.3,-3.9 L10.6,-2.9 L10.8,-1.9Z" fill="#8c0010" opacity="0.90" filter="url(#b1)"/>
<path d="M0.0,0.0 L-8.3,7.2 L-9.0,6.4 L-9.5,5.5 L-10.0,4.6 L-10.4,3.6 L-10.7,2.6 L-10.9,1.5 L-11.0,0.5 L-11.0,-0.6Z" fill="#8c0010" opacity="0.90" filter="url(#b1)"/>
<circle r="3.3" fill="#600018" stroke="#fff" stroke-width="1.3"/>
</g></g></g>
<g transform="translate(364.00,180.45)" clip-path="url(#pc)">
<g clip-path="url(#fov)">
<path d="M45.0,1.0 C49.9,-0.4 65.8,-0.6 71.7,0.5 C77.6,1.6 77.4,5.2 80.3,7.6 C83.2,10.0 86.0,12.7 88.9,14.8 C91.8,16.9 94.4,18.9 97.5,20.5 C100.6,22.1 103.8,23.0 107.6,24.3 C111.4,25.6 116.7,27.0 120.5,28.3 C124.3,29.6 127.8,31.0 130.5,32.3 C133.2,33.5 134.9,34.3 136.5,35.8 C138.1,37.3 139.2,39.2 139.8,41.5 C140.5,43.8 140.2,47.0 140.4,49.8 C140.6,52.6 141.3,55.7 141.2,58.4 C141.0,61.1 140.4,63.8 139.5,66.1 C138.6,68.4 137.3,69.9 136.0,72.1 C134.7,74.2 133.7,76.7 131.8,79.0 C130.0,81.3 127.3,83.9 124.9,85.9 C122.5,87.9 119.8,88.6 117.6,91.2 C115.4,93.8 113.2,98.1 111.6,101.5 C110.0,104.9 109.2,108.3 108.1,111.8 C106.9,115.2 106.0,119.8 104.7,122.2 C103.4,124.7 102.6,125.1 100.4,126.5 C98.2,127.9 94.7,129.7 91.8,130.8 C88.9,131.9 85.8,133.6 83.2,133.3 C80.6,133.0 79.2,131.2 76.3,129.0 C73.4,126.8 68.3,122.3 66.0,120.4 C63.6,118.5 64.5,119.6 62.2,117.8 C59.9,116.0 55.8,111.9 52.1,109.7 C48.4,107.5 44.4,106.5 40.1,104.7 C35.8,102.9 30.5,100.5 26.1,98.7 C21.8,96.9 16.7,96.1 14.0,93.7 C11.3,91.3 10.8,87.3 10.0,84.6 C9.2,81.9 9.0,79.6 9.0,77.6 C9.0,75.6 8.8,75.3 10.0,72.6 C11.2,69.9 14.0,65.1 16.5,61.5 C19.0,57.9 22.1,55.3 24.8,51.2 C27.6,47.1 30.9,40.8 33.0,36.7 C35.0,32.6 35.9,29.5 37.1,26.4 C38.3,23.3 39.3,21.1 40.2,18.2 C41.1,15.3 41.5,11.8 42.3,8.9 C43.1,6.0 40.1,2.4 45.0,1.0Z" fill="#f7f5f8"/>
<g transform="translate(71.53,71.53)">
<circle r="26" fill="#f0c8d0" opacity="0.22" filter="url(#b10)"/>
<path d="M0.0,0.0 L-21.6,-4.2 L-21.0,-6.4 L-20.3,-8.6 L-19.2,-10.7 L-18.0,-12.6 L-16.6,-14.4 L-15.0,-16.1 L-13.2,-17.6 L-11.3,-18.9Z" fill="#c2c8ef" opacity="0.40" filter="url(#b5)"/>
<path d="M0.0,0.0 L40.0,0.0 L39.4,6.9 L37.6,13.7 L34.6,20.0 L30.6,25.7 L25.7,30.6 L20.0,34.6 L13.7,37.6 L6.9,39.4Z" fill="#f4c0c6" opacity="0.25" filter="url(#b10)"/>
<circle r="5" fill="#c01424" opacity="0.5" filter="url(#b1)"/>
<defs><radialGradient id="g10" gradientUnits="userSpaceOnUse" cx="0" cy="0" r="24.0"><stop offset="0" stop-color="#0a0a58"/><stop offset="0.12" stop-color="#0e1274"/><stop offset="0.28" stop-color="#3040b8" stop-opacity="0.95"/><stop offset="0.5" stop-color="#8088dc" stop-opacity="0.7"/><stop offset="0.75" stop-color="#c0c6ee" stop-opacity="0.4"/><stop offset="1" stop-color="#e0e4f6" stop-opacity="0"/></radialGradient></defs>
<path d="M0.0,0.0 L-20.9,-11.8 L-20.6,-12.3 L-20.3,-12.8 L-20.0,-13.3 L-19.6,-13.8 L-19.3,-14.3 L-18.9,-14.8 L-18.5,-15.2 L-18.1,-15.7 L-17.7,-16.2 L-17.3,-16.6 L-16.9,-17.0 L-16.5,-17.5Z" fill="url(#g10)" opacity="0.55" filter="url(#b1)"/>
<path d="M0.0,0.0 L-22.5,-8.5 L-22.0,-9.6 L-21.5,-10.7 L-20.9,-11.8 L-20.3,-12.8 L-19.6,-13.8 L-18.9,-14.8 L-18.1,-15.7 L-17.3,-16.6 L-16.5,-17.5 L-15.6,-18.3 L-14.6,-19.0 L-13.7,-19.7Z" fill="url(#g10)" opacity="0.55" filter="url(#b1)"/>
<path d="M0.0,0.0 L-23.5,-5.0 L-23.0,-6.7 L-22.5,-8.5 L-21.8,-10.1 L-20.9,-11.8 L-20.0,-13.3 L-18.9,-14.8 L-17.7,-16.2 L-16.5,-17.5 L-15.1,-18.7 L-13.7,-19.7 L-12.1,-20.7 L-10.5,-21.6Z" fill="url(#g10)" opacity="0.55" filter="url(#b1)"/>
<defs><radialGradient id="g11" gradientUnits="userSpaceOnUse" cx="0" cy="0" r="20.0"><stop offset="0" stop-color="#0a0a58"/><stop offset="0.12" stop-color="#0e1274"/><stop offset="0.28" stop-color="#3040b8" stop-opacity="0.95"/><stop offset="0.5" stop-color="#8088dc" stop-opacity="0.7"/><stop offset="0.75" stop-color="#c0c6ee" stop-opacity="0.4"/><stop offset="1" stop-color="#e0e4f6" stop-opacity="0"/></radialGradient></defs>
<path d="M0.0,0.0 L14.1,-14.2 L14.4,-13.9 L14.7,-13.6 L14.9,-13.3 L15.2,-13.0 L15.5,-12.6 L15.8,-12.3 L16.0,-12.0 L16.3,-11.6 L16.5,-11.3 L16.8,-10.9 L17.0,-10.6 L17.2,-10.2Z" fill="url(#g11)" opacity="0.50" filter="url(#b1)"/>
<path d="M0.0,0.0 L12.1,-15.9 L12.8,-15.4 L13.4,-14.8 L14.1,-14.2 L14.7,-13.6 L15.2,-13.0 L15.8,-12.3 L16.3,-11.6 L16.8,-10.9 L17.2,-10.2 L17.6,-9.5 L18.0,-8.7 L18.4,-7.9Z" fill="url(#g11)" opacity="0.50" filter="url(#b1)"/>
<path d="M0.0,0.0 L10.0,-17.3 L11.1,-16.6 L12.1,-15.9 L13.1,-15.1 L14.1,-14.2 L14.9,-13.3 L15.8,-12.3 L16.5,-11.3 L17.2,-10.2 L17.8,-9.1 L18.4,-7.9 L18.8,-6.7 L19.2,-5.5Z" fill="url(#g11)" opacity="0.50" filter="url(#b1)"/>
<defs><radialGradient id="g12" gradientUnits="userSpaceOnUse" cx="0" cy="0" r="22.0"><stop offset="0" stop-color="#8a0010"/><stop offset="0.12" stop-color="#a80818"/><stop offset="0.28" stop-color="#d02a36" stop-opacity="0.95"/><stop offset="0.5" stop-color="#e8868e" stop-opacity="0.7"/><stop offset="0.75" stop-color="#f4c2c8" stop-opacity="0.4"/><stop offset="1" stop-color="#f8dde2" stop-opacity="0"/></radialGradient></defs>
<path d="M0.0,0.0 L-3.3,-21.7 L-2.8,-21.8 L-2.2,-21.9 L-1.7,-21.9 L-1.1,-22.0 L-0.6,-22.0 L-0.0,-22.0 L0.6,-22.0 L1.1,-22.0 L1.7,-21.9 L2.2,-21.9 L2.8,-21.8 L3.3,-21.7Z" fill="url(#g12)" opacity="0.50" filter="url(#b1)"/>
<path d="M0.0,0.0 L-6.6,-21.0 L-5.5,-21.3 L-4.4,-21.6 L-3.3,-21.7 L-2.2,-21.9 L-1.1,-22.0 L-0.0,-22.0 L1.1,-22.0 L2.2,-21.9 L3.3,-21.7 L4.4,-21.6 L5.5,-21.3 L6.6,-21.0Z" fill="url(#g12)" opacity="0.50" filter="url(#b1)"/>
<path d="M0.0,0.0 L-9.6,-19.8 L-8.1,-20.4 L-6.6,-21.0 L-4.9,-21.4 L-3.3,-21.7 L-1.7,-21.9 L-0.0,-22.0 L1.7,-21.9 L3.3,-21.7 L4.9,-21.4 L6.6,-21.0 L8.1,-20.4 L9.6,-19.8Z" fill="url(#g12)" opacity="0.50" filter="url(#b1)"/>
<defs><radialGradient id="g13" gradientUnits="userSpaceOnUse" cx="0" cy="0" r="32.0"><stop offset="0" stop-color="#8a0010"/><stop offset="0.12" stop-color="#a80818"/><stop offset="0.28" stop-color="#d02a36" stop-opacity="0.95"/><stop offset="0.5" stop-color="#e8868e" stop-opacity="0.7"/><stop offset="0.75" stop-color="#f4c2c8" stop-opacity="0.4"/><stop offset="1" stop-color="#f8dde2" stop-opacity="0"/></radialGradient></defs>
<path d="M0.0,0.0 L31.6,5.2 L31.4,6.0 L31.3,6.8 L31.1,7.6 L30.9,8.3 L30.7,9.1 L30.4,9.9 L30.2,10.7 L29.9,11.4 L29.6,12.2 L29.3,12.9 L28.9,13.6 L28.6,14.4Z" fill="url(#g13)" opacity="0.55" filter="url(#b1)"/>
<path d="M0.0,0.0 L32.0,0.4 L31.9,2.0 L31.8,3.6 L31.6,5.2 L31.3,6.8 L30.9,8.3 L30.4,9.9 L29.9,11.4 L29.3,12.9 L28.6,14.4 L27.8,15.8 L27.0,17.2 L26.1,18.5Z" fill="url(#g13)" opacity="0.55" filter="url(#b1)"/>
<path d="M0.0,0.0 L31.7,-4.5 L31.9,-2.0 L32.0,0.4 L31.9,2.8 L31.6,5.2 L31.1,7.6 L30.4,9.9 L29.6,12.2 L28.6,14.4 L27.4,16.5 L26.1,18.5 L24.6,20.4 L23.0,22.2Z" fill="url(#g13)" opacity="0.55" filter="url(#b1)"/>
<defs><radialGradient id="g14" gradientUnits="userSpaceOnUse" cx="0" cy="0" r="18.0"><stop offset="0" stop-color="#8a0010"/><stop offset="0.12" stop-color="#a80818"/><stop offset="0.28" stop-color="#d02a36" stop-opacity="0.95"/><stop offset="0.5" stop-color="#e8868e" stop-opacity="0.7"/><stop offset="0.75" stop-color="#f4c2c8" stop-opacity="0.4"/><stop offset="1" stop-color="#f8dde2" stop-opacity="0"/></radialGradient></defs>
<path d="M0.0,0.0 L-16.7,6.6 L-16.9,6.3 L-17.0,6.0 L-17.1,5.7 L-17.2,5.3 L-17.3,5.0 L-17.4,4.7 L-17.5,4.3 L-17.6,4.0 L-17.6,3.6 L-17.7,3.3 L-17.8,3.0 L-17.8,2.6Z" fill="url(#g14)" opacity="0.45" filter="url(#b1)"/>
<path d="M0.0,0.0 L-15.8,8.5 L-16.2,7.9 L-16.5,7.3 L-16.7,6.6 L-17.0,6.0 L-17.2,5.3 L-17.4,4.7 L-17.6,4.0 L-17.7,3.3 L-17.8,2.6 L-17.9,1.9 L-18.0,1.2 L-18.0,0.5Z" fill="url(#g14)" opacity="0.45" filter="url(#b1)"/>
<path d="M0.0,0.0 L-14.7,10.3 L-15.3,9.4 L-15.8,8.5 L-16.3,7.6 L-16.7,6.6 L-17.1,5.7 L-17.4,4.7 L-17.6,3.6 L-17.8,2.6 L-17.9,1.6 L-18.0,0.5 L-18.0,-0.5 L-17.9,-1.6Z" fill="url(#g14)" opacity="0.45" filter="url(#b1)"/>
<path d="M0.0,0.0 L-9.6,-2.8 L-9.3,-3.7 L-8.9,-4.5 L-8.4,-5.4 L-7.9,-6.2 L-7.3,-6.9 L-6.6,-7.5 L-5.8,-8.1 L-5.0,-8.7Z" fill="#10147a" opacity="0.90" filter="url(#b1)"/>
<path d="M0.0,0.0 L4.8,-7.6 L5.4,-7.2 L6.0,-6.7 L6.6,-6.1 L7.1,-5.5 L7.5,-4.9 L7.9,-4.2 L8.3,-3.5 L8.6,-2.8Z" fill="#1a2090" opacity="0.85" filter="url(#b1)"/>
<path d="M0.0,0.0 L-3.7,-9.3 L-2.8,-9.6 L-1.9,-9.8 L-1.0,-10.0 L-0.0,-10.0 L1.0,-10.0 L1.9,-9.8 L2.8,-9.6 L3.7,-9.3Z" fill="#b80c1c" opacity="0.85" filter="url(#b1)"/>
<path d="M0.0,0.0 L13.0,-0.9 L13.0,0.3 L12.9,1.6 L12.7,2.8 L12.4,4.0 L11.9,5.2 L11.4,6.3 L10.7,7.4 L10.0,8.4Z" fill="#b00c1c" opacity="0.90" filter="url(#b1)"/>
<path d="M0.0,0.0 L-6.7,4.4 L-7.0,3.8 L-7.3,3.3 L-7.5,2.7 L-7.7,2.1 L-7.9,1.5 L-8.0,0.8 L-8.0,0.2 L-8.0,-0.4Z" fill="#c01020" opacity="0.70" filter="url(#b1)"/>
<circle r="3.3" fill="#600018" stroke="#fff" stroke-width="1.3"/>
</g></g></g>
<g transform="translate(507.05,180.45)" clip-path="url(#pc)">
<g clip-path="url(#fov)">
<path d="M45.0,1.0 C49.9,-0.4 65.8,-0.6 71.7,0.5 C77.6,1.6 77.4,5.2 80.3,7.6 C83.2,10.0 86.0,12.7 88.9,14.8 C91.8,16.9 94.4,18.9 97.5,20.5 C100.6,22.1 103.8,23.0 107.6,24.3 C111.4,25.6 116.7,27.0 120.5,28.3 C124.3,29.6 127.8,31.0 130.5,32.3 C133.2,33.5 134.9,34.3 136.5,35.8 C138.1,37.3 139.2,39.2 139.8,41.5 C140.5,43.8 140.2,47.0 140.4,49.8 C140.6,52.6 141.3,55.7 141.2,58.4 C141.0,61.1 140.4,63.8 139.5,66.1 C138.6,68.4 137.3,69.9 136.0,72.1 C134.7,74.2 133.7,76.7 131.8,79.0 C130.0,81.3 127.3,83.9 124.9,85.9 C122.5,87.9 119.8,88.6 117.6,91.2 C115.4,93.8 113.2,98.1 111.6,101.5 C110.0,104.9 109.2,108.3 108.1,111.8 C106.9,115.2 106.0,119.8 104.7,122.2 C103.4,124.7 102.6,125.1 100.4,126.5 C98.2,127.9 94.7,129.7 91.8,130.8 C88.9,131.9 85.8,133.6 83.2,133.3 C80.6,133.0 79.2,131.2 76.3,129.0 C73.4,126.8 68.3,122.3 66.0,120.4 C63.6,118.5 64.5,119.6 62.2,117.8 C59.9,116.0 55.8,111.9 52.1,109.7 C48.4,107.5 44.4,106.5 40.1,104.7 C35.8,102.9 30.5,100.5 26.1,98.7 C21.8,96.9 16.7,96.1 14.0,93.7 C11.3,91.3 10.8,87.3 10.0,84.6 C9.2,81.9 9.0,79.6 9.0,77.6 C9.0,75.6 8.8,75.3 10.0,72.6 C11.2,69.9 14.0,65.1 16.5,61.5 C19.0,57.9 22.1,55.3 24.8,51.2 C27.6,47.1 30.9,40.8 33.0,36.7 C35.0,32.6 35.9,29.5 37.1,26.4 C38.3,23.3 39.3,21.1 40.2,18.2 C41.1,15.3 41.5,11.8 42.3,8.9 C43.1,6.0 40.1,2.4 45.0,1.0Z" fill="#f7f5f8"/>
<g transform="translate(71.53,71.53)">
<path d="M0.0,0.0 L-52.9,-15.2 L-50.8,-21.0 L-48.1,-26.7 L-44.8,-31.9 L-40.9,-36.8 L-36.4,-41.2 L-31.5,-45.1 L-26.2,-48.3 L-20.6,-51.0Z" fill="#c2c8ef" opacity="0.32" filter="url(#b10)"/>
<path d="M0.0,0.0 L32.3,44.5 L27.1,47.9 L21.5,50.6 L15.6,52.7 L9.6,54.2 L3.4,54.9 L-2.9,54.9 L-9.1,54.2 L-15.2,52.9Z" fill="#c2c8ef" opacity="0.30" filter="url(#b10)"/>
<path d="M0.0,0.0 L-21.9,44.9 L-26.5,42.4 L-30.8,39.4 L-34.7,36.0 L-38.3,32.1 L-41.5,28.0 L-44.1,23.5 L-46.4,18.7 L-48.1,13.8Z" fill="#f4c0c6" opacity="0.22" filter="url(#b10)"/>
<circle r="5" fill="#c01424" opacity="0.5" filter="url(#b1)"/>
<defs><radialGradient id="g15" gradientUnits="userSpaceOnUse" cx="0" cy="0" r="34.0"><stop offset="0" stop-color="#8a0010"/><stop offset="0.12" stop-color="#a80818"/><stop offset="0.28" stop-color="#d02a36" stop-opacity="0.95"/><stop offset="0.5" stop-color="#e8868e" stop-opacity="0.7"/><stop offset="0.75" stop-color="#f4c2c8" stop-opacity="0.4"/><stop offset="1" stop-color="#f8dde2" stop-opacity="0"/></radialGradient></defs>
<path d="M0.0,0.0 L33.9,2.8 L33.8,3.5 L33.7,4.2 L33.6,4.9 L33.5,5.6 L33.4,6.4 L33.3,7.1 L33.1,7.8 L32.9,8.5 L32.7,9.2 L32.5,9.9 L32.3,10.6 L32.1,11.3Z" fill="url(#g15)" opacity="0.50" filter="url(#b2)"/>
<path d="M0.0,0.0 L34.0,-1.6 L34.0,-0.1 L34.0,1.3 L33.9,2.8 L33.7,4.2 L33.5,5.6 L33.3,7.1 L32.9,8.5 L32.5,9.9 L32.1,11.3 L31.6,12.6 L31.0,13.9 L30.4,15.3Z" fill="url(#g15)" opacity="0.50" filter="url(#b2)"/>
<path d="M0.0,0.0 L33.5,-5.9 L33.8,-3.8 L34.0,-1.6 L34.0,0.6 L33.9,2.8 L33.6,4.9 L33.3,7.1 L32.7,9.2 L32.1,11.3 L31.3,13.3 L30.4,15.3 L29.3,17.2 L28.2,19.0Z" fill="url(#g15)" opacity="0.50" filter="url(#b2)"/>
<defs><radialGradient id="g16" gradientUnits="userSpaceOnUse" cx="0" cy="0" r="24.0"><stop offset="0" stop-color="#8a0010"/><stop offset="0.12" stop-color="#a80818"/><stop offset="0.28" stop-color="#d02a36" stop-opacity="0.95"/><stop offset="0.5" stop-color="#e8868e" stop-opacity="0.7"/><stop offset="0.75" stop-color="#f4c2c8" stop-opacity="0.4"/><stop offset="1" stop-color="#f8dde2" stop-opacity="0"/></radialGradient></defs>
<path d="M0.0,0.0 L-3.3,-23.8 L-2.8,-23.8 L-2.2,-23.9 L-1.7,-23.9 L-1.1,-24.0 L-0.6,-24.0 L-0.0,-24.0 L0.6,-24.0 L1.1,-24.0 L1.7,-23.9 L2.2,-23.9 L2.8,-23.8 L3.3,-23.8Z" fill="url(#g16)" opacity="0.45" filter="url(#b1)"/>
<path d="M0.0,0.0 L-6.6,-23.1 L-5.5,-23.4 L-4.4,-23.6 L-3.3,-23.8 L-2.2,-23.9 L-1.1,-24.0 L-0.0,-24.0 L1.1,-24.0 L2.2,-23.9 L3.3,-23.8 L4.4,-23.6 L5.5,-23.4 L6.6,-23.1Z" fill="url(#g16)" opacity="0.45" filter="url(#b1)"/>
<path d="M0.0,0.0 L-9.8,-21.9 L-8.2,-22.6 L-6.6,-23.1 L-5.0,-23.5 L-3.3,-23.8 L-1.7,-23.9 L-0.0,-24.0 L1.7,-23.9 L3.3,-23.8 L5.0,-23.5 L6.6,-23.1 L8.2,-22.6 L9.8,-21.9Z" fill="url(#g16)" opacity="0.45" filter="url(#b1)"/>
<defs><radialGradient id="g17" gradientUnits="userSpaceOnUse" cx="0" cy="0" r="26.0"><stop offset="0" stop-color="#8a0010"/><stop offset="0.12" stop-color="#a80818"/><stop offset="0.28" stop-color="#d02a36" stop-opacity="0.95"/><stop offset="0.5" stop-color="#e8868e" stop-opacity="0.7"/><stop offset="0.75" stop-color="#f4c2c8" stop-opacity="0.4"/><stop offset="1" stop-color="#f8dde2" stop-opacity="0"/></radialGradient></defs>
<path d="M0.0,0.0 L-24.5,8.6 L-24.7,8.1 L-24.9,7.6 L-25.0,7.0 L-25.2,6.5 L-25.3,5.9 L-25.4,5.4 L-25.5,4.9 L-25.6,4.3 L-25.7,3.8 L-25.8,3.2 L-25.9,2.7 L-25.9,2.1Z" fill="url(#g17)" opacity="0.50" filter="url(#b1)"/>
<path d="M0.0,0.0 L-23.2,11.7 L-23.7,10.7 L-24.1,9.6 L-24.5,8.6 L-24.9,7.6 L-25.2,6.5 L-25.4,5.4 L-25.6,4.3 L-25.8,3.2 L-25.9,2.1 L-26.0,1.0 L-26.0,-0.1 L-26.0,-1.2Z" fill="url(#g17)" opacity="0.50" filter="url(#b1)"/>
<path d="M0.0,0.0 L-21.6,14.5 L-22.4,13.1 L-23.2,11.7 L-23.9,10.2 L-24.5,8.6 L-25.0,7.0 L-25.4,5.4 L-25.7,3.8 L-25.9,2.1 L-26.0,0.5 L-26.0,-1.2 L-25.8,-2.9 L-25.6,-4.5Z" fill="url(#g17)" opacity="0.50" filter="url(#b1)"/>
<defs><radialGradient id="g18" gradientUnits="userSpaceOnUse" cx="0" cy="0" r="44.0"><stop offset="0" stop-color="#0a0a58"/><stop offset="0.12" stop-color="#0e1274"/><stop offset="0.28" stop-color="#3040b8" stop-opacity="0.95"/><stop offset="0.5" stop-color="#8088dc" stop-opacity="0.7"/><stop offset="0.75" stop-color="#c0c6ee" stop-opacity="0.4"/><stop offset="1" stop-color="#e0e4f6" stop-opacity="0"/></radialGradient></defs>
<path d="M0.0,0.0 L-36.2,-25.0 L-35.6,-25.8 L-35.1,-26.5 L-34.5,-27.3 L-33.9,-28.0 L-33.3,-28.7 L-32.7,-29.4 L-32.1,-30.1 L-31.4,-30.8 L-30.7,-31.5 L-30.1,-32.1 L-29.4,-32.8 L-28.7,-33.4Z" fill="url(#g18)" opacity="0.55" filter="url(#b2)"/>
<path d="M0.0,0.0 L-39.1,-20.2 L-38.2,-21.9 L-37.2,-23.5 L-36.2,-25.0 L-35.1,-26.5 L-33.9,-28.0 L-32.7,-29.4 L-31.4,-30.8 L-30.1,-32.1 L-28.7,-33.4 L-27.2,-34.6 L-25.7,-35.7 L-24.2,-36.8Z" fill="url(#g18)" opacity="0.55" filter="url(#b2)"/>
<path d="M0.0,0.0 L-41.3,-15.0 L-40.3,-17.7 L-39.1,-20.2 L-37.7,-22.7 L-36.2,-25.0 L-34.5,-27.3 L-32.7,-29.4 L-30.7,-31.5 L-28.7,-33.4 L-26.5,-35.1 L-24.2,-36.8 L-21.8,-38.2 L-19.3,-39.5Z" fill="url(#g18)" opacity="0.55" filter="url(#b2)"/>
<defs><radialGradient id="g19" gradientUnits="userSpaceOnUse" cx="0" cy="0" r="22.0"><stop offset="0" stop-color="#0a0a58"/><stop offset="0.12" stop-color="#0e1274"/><stop offset="0.28" stop-color="#3040b8" stop-opacity="0.95"/><stop offset="0.5" stop-color="#8088dc" stop-opacity="0.7"/><stop offset="0.75" stop-color="#c0c6ee" stop-opacity="0.4"/><stop offset="1" stop-color="#e0e4f6" stop-opacity="0"/></radialGradient></defs>
<path d="M0.0,0.0 L15.6,-15.5 L15.9,-15.2 L16.2,-14.8 L16.5,-14.5 L16.8,-14.2 L17.1,-13.9 L17.3,-13.5 L17.6,-13.2 L17.8,-12.9 L18.1,-12.5 L18.3,-12.2 L18.6,-11.8 L18.8,-11.4Z" fill="url(#g19)" opacity="0.50" filter="url(#b1)"/>
<path d="M0.0,0.0 L13.7,-17.2 L14.4,-16.6 L15.0,-16.1 L15.6,-15.5 L16.2,-14.8 L16.8,-14.2 L17.3,-13.5 L17.8,-12.9 L18.3,-12.2 L18.8,-11.4 L19.2,-10.7 L19.6,-9.9 L20.0,-9.2Z" fill="url(#g19)" opacity="0.50" filter="url(#b1)"/>
<path d="M0.0,0.0 L11.7,-18.7 L12.7,-17.9 L13.7,-17.2 L14.7,-16.3 L15.6,-15.5 L16.5,-14.5 L17.3,-13.5 L18.1,-12.5 L18.8,-11.4 L19.4,-10.3 L20.0,-9.2 L20.5,-8.0 L20.9,-6.8Z" fill="url(#g19)" opacity="0.50" filter="url(#b1)"/>
<path d="M0.0,0.0 L13.9,-1.9 L14.0,-0.7 L14.0,0.5 L13.9,1.7 L13.7,2.9 L13.4,4.1 L13.0,5.2 L12.5,6.4 L11.9,7.4Z" fill="#b00c1c" opacity="0.90" filter="url(#b1)"/>
<path d="M0.0,0.0 L-3.1,-8.5 L-2.3,-8.7 L-1.6,-8.9 L-0.8,-9.0 L-0.0,-9.0 L0.8,-9.0 L1.6,-8.9 L2.3,-8.7 L3.1,-8.5Z" fill="#b80c1c" opacity="0.80" filter="url(#b1)"/>
<path d="M0.0,0.0 L-8.7,5.0 L-9.0,4.3 L-9.3,3.6 L-9.6,2.8 L-9.8,2.1 L-9.9,1.3 L-10.0,0.5 L-10.0,-0.3 L-9.9,-1.0Z" fill="#b00c1c" opacity="0.85" filter="url(#b1)"/>
<path d="M0.0,0.0 L-14.8,-6.0 L-14.3,-7.3 L-13.6,-8.5 L-12.8,-9.6 L-11.9,-10.7 L-10.9,-11.7 L-9.9,-12.6 L-8.7,-13.4 L-7.5,-14.1Z" fill="#0e1274" opacity="0.95" filter="url(#b1)"/>
<path d="M0.0,0.0 L5.0,-7.5 L5.5,-7.1 L6.0,-6.7 L6.5,-6.3 L6.9,-5.8 L7.3,-5.3 L7.6,-4.8 L7.9,-4.2 L8.2,-3.7Z" fill="#1a2090" opacity="0.85" filter="url(#b1)"/>
<circle r="3.3" fill="#600018" stroke="#fff" stroke-width="1.3"/>
</g></g></g>
<rect x="649.40" y="37.40" width="9.50" height="286.20" fill="url(#cb)"/>
<path d="M77.90,37.40H650.10M77.90,180.45H650.10M77.90,323.50H650.10" stroke="#000" stroke-width="0.85" fill="none"/>
<path d="M77.90,37.40V323.50" stroke="#000" stroke-width="0.9" fill="none"/>
<path d="M220.95,37.40V323.50M364.00,37.40V323.50M507.05,37.40V323.50" stroke="#000" stroke-width="1.0" fill="none" opacity="0.95"/>
<rect x="649.40" y="37.40" width="9.50" height="286.20" fill="none" stroke="#000" stroke-width="0.80"/>
<path d="M86.34,37.40L86.34,35.40M86.34,180.45L86.34,182.45M86.34,323.50L86.34,325.50M95.35,37.40L95.35,35.40M95.35,180.45L95.35,182.45M95.35,323.50L95.35,325.50M104.36,37.40L104.36,35.40M104.36,180.45L104.36,182.45M104.36,323.50L104.36,325.50M113.38,37.40L113.38,35.40M113.38,180.45L113.38,183.45M113.38,323.50L113.38,326.50M122.39,37.40L122.39,35.40M122.39,180.45L122.39,182.45M122.39,323.50L122.39,325.50M131.40,37.40L131.40,35.40M131.40,180.45L131.40,182.45M131.40,323.50L131.40,325.50M140.41,37.40L140.41,35.40M140.41,180.45L140.41,182.45M140.41,323.50L140.41,325.50M149.43,37.40L149.43,35.40M149.43,180.45L149.43,183.45M149.43,323.50L149.43,326.50M158.44,37.40L158.44,35.40M158.44,180.45L158.44,182.45M158.44,323.50L158.44,325.50M167.45,37.40L167.45,35.40M167.45,180.45L167.45,182.45M167.45,323.50L167.45,325.50M176.46,37.40L176.46,35.40M176.46,180.45L176.46,182.45M176.46,323.50L176.46,325.50M185.48,37.40L185.48,35.40M185.48,180.45L185.48,183.45M185.48,323.50L185.48,326.50M194.49,37.40L194.49,35.40M194.49,180.45L194.49,182.45M194.49,323.50L194.49,325.50M203.50,37.40L203.50,35.40M203.50,180.45L203.50,182.45M203.50,323.50L203.50,325.50M212.51,37.40L212.51,35.40M212.51,180.45L212.51,182.45M212.51,323.50L212.51,325.50M229.39,37.40L229.39,35.40M229.39,180.45L229.39,182.45M229.39,323.50L229.39,325.50M238.40,37.40L238.40,35.40M238.40,180.45L238.40,182.45M238.40,323.50L238.40,325.50M247.41,37.40L247.41,35.40M247.41,180.45L247.41,182.45M247.41,323.50L247.41,325.50M256.43,37.40L256.43,35.40M256.43,180.45L256.43,183.45M256.43,323.50L256.43,326.50M265.44,37.40L265.44,35.40M265.44,180.45L265.44,182.45M265.44,323.50L265.44,325.50M274.45,37.40L274.45,35.40M274.45,180.45L274.45,182.45M274.45,323.50L274.45,325.50M283.46,37.40L283.46,35.40M283.46,180.45L283.46,182.45M283.46,323.50L283.46,325.50M292.48,37.40L292.48,35.40M292.48,180.45L292.48,183.45M292.48,323.50L292.48,326.50M301.49,37.40L301.49,35.40M301.49,180.45L301.49,182.45M301.49,323.50L301.49,325.50M310.50,37.40L310.50,35.40M310.50,180.45L310.50,182.45M310.50,323.50L310.50,325.50M319.51,37.40L319.51,35.40M319.51,180.45L319.51,182.45M319.51,323.50L319.51,325.50M328.53,37.40L328.53,35.40M328.53,180.45L328.53,183.45M328.53,323.50L328.53,326.50M337.54,37.40L337.54,35.40M337.54,180.45L337.54,182.45M337.54,323.50L337.54,325.50M346.55,37.40L346.55,35.40M346.55,180.45L346.55,182.45M346.55,323.50L346.55,325.50M355.56,37.40L355.56,35.40M355.56,180.45L355.56,182.45M355.56,323.50L355.56,325.50M372.44,37.40L372.44,35.40M372.44,180.45L372.44,182.45M372.44,323.50L372.44,325.50M381.45,37.40L381.45,35.40M381.45,180.45L381.45,182.45M381.45,323.50L381.45,325.50M390.46,37.40L390.46,35.40M390.46,180.45L390.46,182.45M390.46,323.50L390.46,325.50M399.47,37.40L399.47,35.40M399.47,180.45L399.47,183.45M399.47,323.50L399.47,326.50M408.49,37.40L408.49,35.40M408.49,180.45L408.49,182.45M408.49,323.50L408.49,325.50M417.50,37.40L417.50,35.40M417.50,180.45L417.50,182.45M417.50,323.50L417.50,325.50M426.51,37.40L426.51,35.40M426.51,180.45L426.51,182.45M426.51,323.50L426.51,325.50M435.52,37.40L435.52,35.40M435.52,180.45L435.52,183.45M435.52,323.50L435.52,326.50M444.54,37.40L444.54,35.40M444.54,180.45L444.54,182.45M444.54,323.50L444.54,325.50M453.55,37.40L453.55,35.40M453.55,180.45L453.55,182.45M453.55,323.50L453.55,325.50M462.56,37.40L462.56,35.40M462.56,180.45L462.56,182.45M462.56,323.50L462.56,325.50M471.57,37.40L471.57,35.40M471.57,180.45L471.57,183.45M471.57,323.50L471.57,326.50M480.59,37.40L480.59,35.40M480.59,180.45L480.59,182.45M480.59,323.50L480.59,325.50M489.60,37.40L489.60,35.40M489.60,180.45L489.60,182.45M489.60,323.50L489.60,325.50M498.61,37.40L498.61,35.40M498.61,180.45L498.61,182.45M498.61,323.50L498.61,325.50M515.49,37.40L515.49,35.40M515.49,180.45L515.49,182.45M515.49,323.50L515.49,325.50M524.50,37.40L524.50,35.40M524.50,180.45L524.50,182.45M524.50,323.50L524.50,325.50M533.51,37.40L533.51,35.40M533.51,180.45L533.51,182.45M533.51,323.50L533.51,325.50M542.53,37.40L542.53,35.40M542.53,180.45L542.53,183.45M542.53,323.50L542.53,326.50M551.54,37.40L551.54,35.40M551.54,180.45L551.54,182.45M551.54,323.50L551.54,325.50M560.55,37.40L560.55,35.40M560.55,180.45L560.55,182.45M560.55,323.50L560.55,325.50M569.56,37.40L569.56,35.40M569.56,180.45L569.56,182.45M569.56,323.50L569.56,325.50M578.58,37.40L578.58,35.40M578.58,180.45L578.58,183.45M578.58,323.50L578.58,326.50M587.59,37.40L587.59,35.40M587.59,180.45L587.59,182.45M587.59,323.50L587.59,325.50M596.60,37.40L596.60,35.40M596.60,180.45L596.60,182.45M596.60,323.50L596.60,325.50M605.61,37.40L605.61,35.40M605.61,180.45L605.61,182.45M605.61,323.50L605.61,325.50M614.62,37.40L614.62,35.40M614.62,180.45L614.62,183.45M614.62,323.50L614.62,326.50M623.64,37.40L623.64,35.40M623.64,180.45L623.64,182.45M623.64,323.50L623.64,325.50M632.65,37.40L632.65,35.40M632.65,180.45L632.65,182.45M632.65,323.50L632.65,325.50M641.66,37.40L641.66,35.40M641.66,180.45L641.66,182.45M641.66,323.50L641.66,325.50M77.90,45.84L75.90,45.84M219.35,45.84L222.55,45.84M362.40,45.84L365.60,45.84M505.45,45.84L508.65,45.84M650.10,45.84L652.10,45.84M77.90,54.85L75.90,54.85M219.35,54.85L222.55,54.85M362.40,54.85L365.60,54.85M505.45,54.85L508.65,54.85M650.10,54.85L652.10,54.85M77.90,63.86L75.90,63.86M219.35,63.86L222.55,63.86M362.40,63.86L365.60,63.86M505.45,63.86L508.65,63.86M650.10,63.86L652.10,63.86M77.90,72.88L74.90,72.88M218.45,72.88L223.45,72.88M361.50,72.88L366.50,72.88M504.55,72.88L509.55,72.88M650.10,72.88L652.10,72.88M77.90,81.89L75.90,81.89M219.35,81.89L222.55,81.89M362.40,81.89L365.60,81.89M505.45,81.89L508.65,81.89M650.10,81.89L652.10,81.89M77.90,90.90L75.90,90.90M219.35,90.90L222.55,90.90M362.40,90.90L365.60,90.90M505.45,90.90L508.65,90.90M650.10,90.90L652.10,90.90M77.90,99.91L75.90,99.91M219.35,99.91L222.55,99.91M362.40,99.91L365.60,99.91M505.45,99.91L508.65,99.91M650.10,99.91L652.10,99.91M77.90,108.93L74.90,108.93M218.45,108.93L223.45,108.93M361.50,108.93L366.50,108.93M504.55,108.93L509.55,108.93M650.10,108.93L652.10,108.93M77.90,117.94L75.90,117.94M219.35,117.94L222.55,117.94M362.40,117.94L365.60,117.94M505.45,117.94L508.65,117.94M650.10,117.94L652.10,117.94M77.90,126.95L75.90,126.95M219.35,126.95L222.55,126.95M362.40,126.95L365.60,126.95M505.45,126.95L508.65,126.95M650.10,126.95L652.10,126.95M77.90,135.96L75.90,135.96M219.35,135.96L222.55,135.96M362.40,135.96L365.60,135.96M505.45,135.96L508.65,135.96M650.10,135.96L652.10,135.96M77.90,144.98L74.90,144.98M218.45,144.98L223.45,144.98M361.50,144.98L366.50,144.98M504.55,144.98L509.55,144.98M650.10,144.98L652.10,144.98M77.90,153.99L75.90,153.99M219.35,153.99L222.55,153.99M362.40,153.99L365.60,153.99M505.45,153.99L508.65,153.99M650.10,153.99L652.10,153.99M77.90,163.00L75.90,163.00M219.35,163.00L222.55,163.00M362.40,163.00L365.60,163.00M505.45,163.00L508.65,163.00M650.10,163.00L652.10,163.00M77.90,172.01L75.90,172.01M219.35,172.01L222.55,172.01M362.40,172.01L365.60,172.01M505.45,172.01L508.65,172.01M650.10,172.01L652.10,172.01M77.90,188.89L75.90,188.89M219.35,188.89L220.95,188.89M362.40,188.89L364.00,188.89M505.45,188.89L507.05,188.89M650.10,188.89L652.10,188.89M77.90,197.90L75.90,197.90M219.35,197.90L220.95,197.90M362.40,197.90L364.00,197.90M505.45,197.90L507.05,197.90M650.10,197.90L652.10,197.90M77.90,206.91L75.90,206.91M219.35,206.91L220.95,206.91M362.40,206.91L364.00,206.91M505.45,206.91L507.05,206.91M650.10,206.91L652.10,206.91M77.90,215.93L74.90,215.93M218.45,215.93L220.95,215.93M361.50,215.93L364.00,215.93M504.55,215.93L507.05,215.93M650.10,215.93L652.10,215.93M77.90,224.94L75.90,224.94M219.35,224.94L220.95,224.94M362.40,224.94L364.00,224.94M505.45,224.94L507.05,224.94M650.10,224.94L652.10,224.94M77.90,233.95L75.90,233.95M219.35,233.95L220.95,233.95M362.40,233.95L364.00,233.95M505.45,233.95L507.05,233.95M650.10,233.95L652.10,233.95M77.90,242.96L75.90,242.96M219.35,242.96L220.95,242.96M362.40,242.96L364.00,242.96M505.45,242.96L507.05,242.96M650.10,242.96L652.10,242.96M77.90,251.97L74.90,251.97M218.45,251.97L220.95,251.97M361.50,251.97L364.00,251.97M504.55,251.97L507.05,251.97M650.10,251.97L652.10,251.97M77.90,260.99L75.90,260.99M219.35,260.99L220.95,260.99M362.40,260.99L364.00,260.99M505.45,260.99L507.05,260.99M650.10,260.99L652.10,260.99M77.90,270.00L75.90,270.00M219.35,270.00L220.95,270.00M362.40,270.00L364.00,270.00M505.45,270.00L507.05,270.00M650.10,270.00L652.10,270.00M77.90,279.01L75.90,279.01M219.35,279.01L220.95,279.01M362.40,279.01L364.00,279.01M505.45,279.01L507.05,279.01M650.10,279.01L652.10,279.01M77.90,288.02L74.90,288.02M218.45,288.02L220.95,288.02M361.50,288.02L364.00,288.02M504.55,288.02L507.05,288.02M650.10,288.02L652.10,288.02M77.90,297.04L75.90,297.04M219.35,297.04L220.95,297.04M362.40,297.04L364.00,297.04M505.45,297.04L507.05,297.04M650.10,297.04L652.10,297.04M77.90,306.05L75.90,306.05M219.35,306.05L220.95,306.05M362.40,306.05L364.00,306.05M505.45,306.05L507.05,306.05M650.10,306.05L652.10,306.05M77.90,315.06L75.90,315.06M219.35,315.06L220.95,315.06M362.40,315.06L364.00,315.06M505.45,315.06L507.05,315.06M650.10,315.06L652.10,315.06M658.90,37.40L661.40,37.40M658.90,73.17L661.40,73.17M658.90,108.95L661.40,108.95M658.90,144.72L661.40,144.72M658.90,180.50L661.40,180.50M658.90,216.28L661.40,216.28M658.90,252.05L661.40,252.05M658.90,287.82L661.40,287.82M658.90,323.60L661.40,323.60" stroke="#000" stroke-width="0.8" fill="none"/>
<text x="359.00" y="7.80" font-size="10.20" text-anchor="middle" textLength="52.00" lengthAdjust="spacingAndGlyphs" >hd45677-J</text>
<text x="149.40" y="32.10" font-size="10.20" text-anchor="middle" textLength="95.40" lengthAdjust="spacingAndGlyphs" >pipeline correction</text>
<text x="292.55" y="32.10" font-size="10.20" text-anchor="middle" textLength="69.70" lengthAdjust="spacingAndGlyphs" >circle r=12px</text>
<text x="435.30" y="32.10" font-size="10.20" text-anchor="middle" textLength="83.20" lengthAdjust="spacingAndGlyphs" >ring 70&lt;r&lt;80px</text>
<text x="578.10" y="32.10" font-size="10.20" text-anchor="middle" textLength="64.80" lengthAdjust="spacingAndGlyphs" >Uphi r=12px</text>
<text x="113.38" y="193.20" font-size="9.20" text-anchor="middle" textLength="12.80" lengthAdjust="spacingAndGlyphs" >1.0</text>
<text x="113.38" y="336.50" font-size="9.20" text-anchor="middle" textLength="12.80" lengthAdjust="spacingAndGlyphs" >1.0</text>
<text x="149.43" y="193.20" font-size="9.20" text-anchor="middle" textLength="13.30" lengthAdjust="spacingAndGlyphs" >0.0</text>
<text x="149.43" y="336.50" font-size="9.20" text-anchor="middle" textLength="13.30" lengthAdjust="spacingAndGlyphs" >0.0</text>
<text x="185.48" y="193.20" font-size="9.20" text-anchor="middle" textLength="16.80" lengthAdjust="spacingAndGlyphs" >-1.0</text>
<text x="185.48" y="336.50" font-size="9.20" text-anchor="middle" textLength="16.80" lengthAdjust="spacingAndGlyphs" >-1.0</text>
<text x="149.03" y="347.4" font-size="8.8" text-anchor="middle" font-style="italic" textLength="22.3" lengthAdjust="spacingAndGlyphs">Δα(″)</text>
<text x="256.43" y="193.20" font-size="9.20" text-anchor="middle" textLength="12.80" lengthAdjust="spacingAndGlyphs" >1.0</text>
<text x="256.43" y="336.50" font-size="9.20" text-anchor="middle" textLength="12.80" lengthAdjust="spacingAndGlyphs" >1.0</text>
<text x="292.48" y="193.20" font-size="9.20" text-anchor="middle" textLength="13.30" lengthAdjust="spacingAndGlyphs" >0.0</text>
<text x="292.48" y="336.50" font-size="9.20" text-anchor="middle" textLength="13.30" lengthAdjust="spacingAndGlyphs" >0.0</text>
<text x="328.53" y="193.20" font-size="9.20" text-anchor="middle" textLength="16.80" lengthAdjust="spacingAndGlyphs" >-1.0</text>
<text x="328.53" y="336.50" font-size="9.20" text-anchor="middle" textLength="16.80" lengthAdjust="spacingAndGlyphs" >-1.0</text>
<text x="292.08" y="347.4" font-size="8.8" text-anchor="middle" font-style="italic" textLength="22.3" lengthAdjust="spacingAndGlyphs">Δα(″)</text>
<text x="399.47" y="193.20" font-size="9.20" text-anchor="middle" textLength="12.80" lengthAdjust="spacingAndGlyphs" >1.0</text>
<text x="399.47" y="336.50" font-size="9.20" text-anchor="middle" textLength="12.80" lengthAdjust="spacingAndGlyphs" >1.0</text>
<text x="435.52" y="193.20" font-size="9.20" text-anchor="middle" textLength="13.30" lengthAdjust="spacingAndGlyphs" >0.0</text>
<text x="435.52" y="336.50" font-size="9.20" text-anchor="middle" textLength="13.30" lengthAdjust="spacingAndGlyphs" >0.0</text>
<text x="471.57" y="193.20" font-size="9.20" text-anchor="middle" textLength="16.80" lengthAdjust="spacingAndGlyphs" >-1.0</text>
<text x="471.57" y="336.50" font-size="9.20" text-anchor="middle" textLength="16.80" lengthAdjust="spacingAndGlyphs" >-1.0</text>
<text x="435.12" y="347.4" font-size="8.8" text-anchor="middle" font-style="italic" textLength="22.3" lengthAdjust="spacingAndGlyphs">Δα(″)</text>
<text x="542.53" y="193.20" font-size="9.20" text-anchor="middle" textLength="12.80" lengthAdjust="spacingAndGlyphs" >1.0</text>
<text x="542.53" y="336.50" font-size="9.20" text-anchor="middle" textLength="12.80" lengthAdjust="spacingAndGlyphs" >1.0</text>
<text x="578.58" y="193.20" font-size="9.20" text-anchor="middle" textLength="13.30" lengthAdjust="spacingAndGlyphs" >0.0</text>
<text x="578.58" y="336.50" font-size="9.20" text-anchor="middle" textLength="13.30" lengthAdjust="spacingAndGlyphs" >0.0</text>
<text x="614.62" y="193.20" font-size="9.20" text-anchor="middle" textLength="16.80" lengthAdjust="spacingAndGlyphs" >-1.0</text>
<text x="614.62" y="336.50" font-size="9.20" text-anchor="middle" textLength="16.80" lengthAdjust="spacingAndGlyphs" >-1.0</text>
<text x="578.18" y="347.4" font-size="8.8" text-anchor="middle" font-style="italic" textLength="22.3" lengthAdjust="spacingAndGlyphs">Δα(″)</text>
<text x="71.80" y="76.08" font-size="9.20" text-anchor="end" textLength="12.80" lengthAdjust="spacingAndGlyphs" >1.0</text>
<text x="71.80" y="112.13" font-size="9.20" text-anchor="end" textLength="13.30" lengthAdjust="spacingAndGlyphs" >0.0</text>
<text x="71.80" y="148.18" font-size="9.20" text-anchor="end" textLength="16.80" lengthAdjust="spacingAndGlyphs" >-1.0</text>
<text transform="translate(50.4,109.23) rotate(-90)" font-size="8.8" text-anchor="middle" font-style="italic" textLength="21.8" lengthAdjust="spacingAndGlyphs">Δδ(″)</text>
<text x="71.80" y="219.12" font-size="9.20" text-anchor="end" textLength="12.80" lengthAdjust="spacingAndGlyphs" >1.0</text>
<text x="71.80" y="255.17" font-size="9.20" text-anchor="end" textLength="13.30" lengthAdjust="spacingAndGlyphs" >0.0</text>
<text x="71.80" y="291.22" font-size="9.20" text-anchor="end" textLength="16.80" lengthAdjust="spacingAndGlyphs" >-1.0</text>
<text transform="translate(50.4,252.28) rotate(-90)" font-size="8.8" text-anchor="middle" font-style="italic" textLength="21.8" lengthAdjust="spacingAndGlyphs">Δδ(″)</text>
<text x="0.8" y="113" font-size="30" textLength="19.5" lengthAdjust="spacingAndGlyphs">Q</text>
<text x="22" y="115.5" font-size="20" font-style="italic">ϕ</text>
<text x="1.4" y="253.1" font-size="29.5" textLength="17.5" lengthAdjust="spacingAndGlyphs">U</text>
<text x="20.5" y="256.7" font-size="20" font-style="italic">ϕ</text>
<text x="665.30" y="40.60" font-size="9.20" text-anchor="start" textLength="15.80" lengthAdjust="spacingAndGlyphs" >100</text>
<text x="665.30" y="76.38" font-size="9.20" text-anchor="start" textLength="10.60" lengthAdjust="spacingAndGlyphs" >75</text>
<text x="665.30" y="112.15" font-size="9.20" text-anchor="start" textLength="10.60" lengthAdjust="spacingAndGlyphs" >50</text>
<text x="665.30" y="147.92" font-size="9.20" text-anchor="start" textLength="10.60" lengthAdjust="spacingAndGlyphs" >25</text>
<text x="665.30" y="183.70" font-size="9.20" text-anchor="start" textLength="5.30" lengthAdjust="spacingAndGlyphs" >0</text>
<text x="665.30" y="219.47" font-size="9.20" text-anchor="start" textLength="17.50" lengthAdjust="spacingAndGlyphs" >−25</text>
<text x="665.30" y="255.25" font-size="9.20" text-anchor="start" textLength="17.50" lengthAdjust="spacingAndGlyphs" >−50</text>
<text x="665.30" y="291.02" font-size="9.20" text-anchor="start" textLength="17.50" lengthAdjust="spacingAndGlyphs" >−75</text>
<text x="665.30" y="326.80" font-size="9.20" text-anchor="start" textLength="22.40" lengthAdjust="spacingAndGlyphs" >−100</text>
<text transform="translate(699,180.1) rotate(-90)" font-size="9.6" text-anchor="middle" textLength="138.3" lengthAdjust="spacingAndGlyphs">Surface brightness (ADU/coadd)</text>
</svg></body></html>
